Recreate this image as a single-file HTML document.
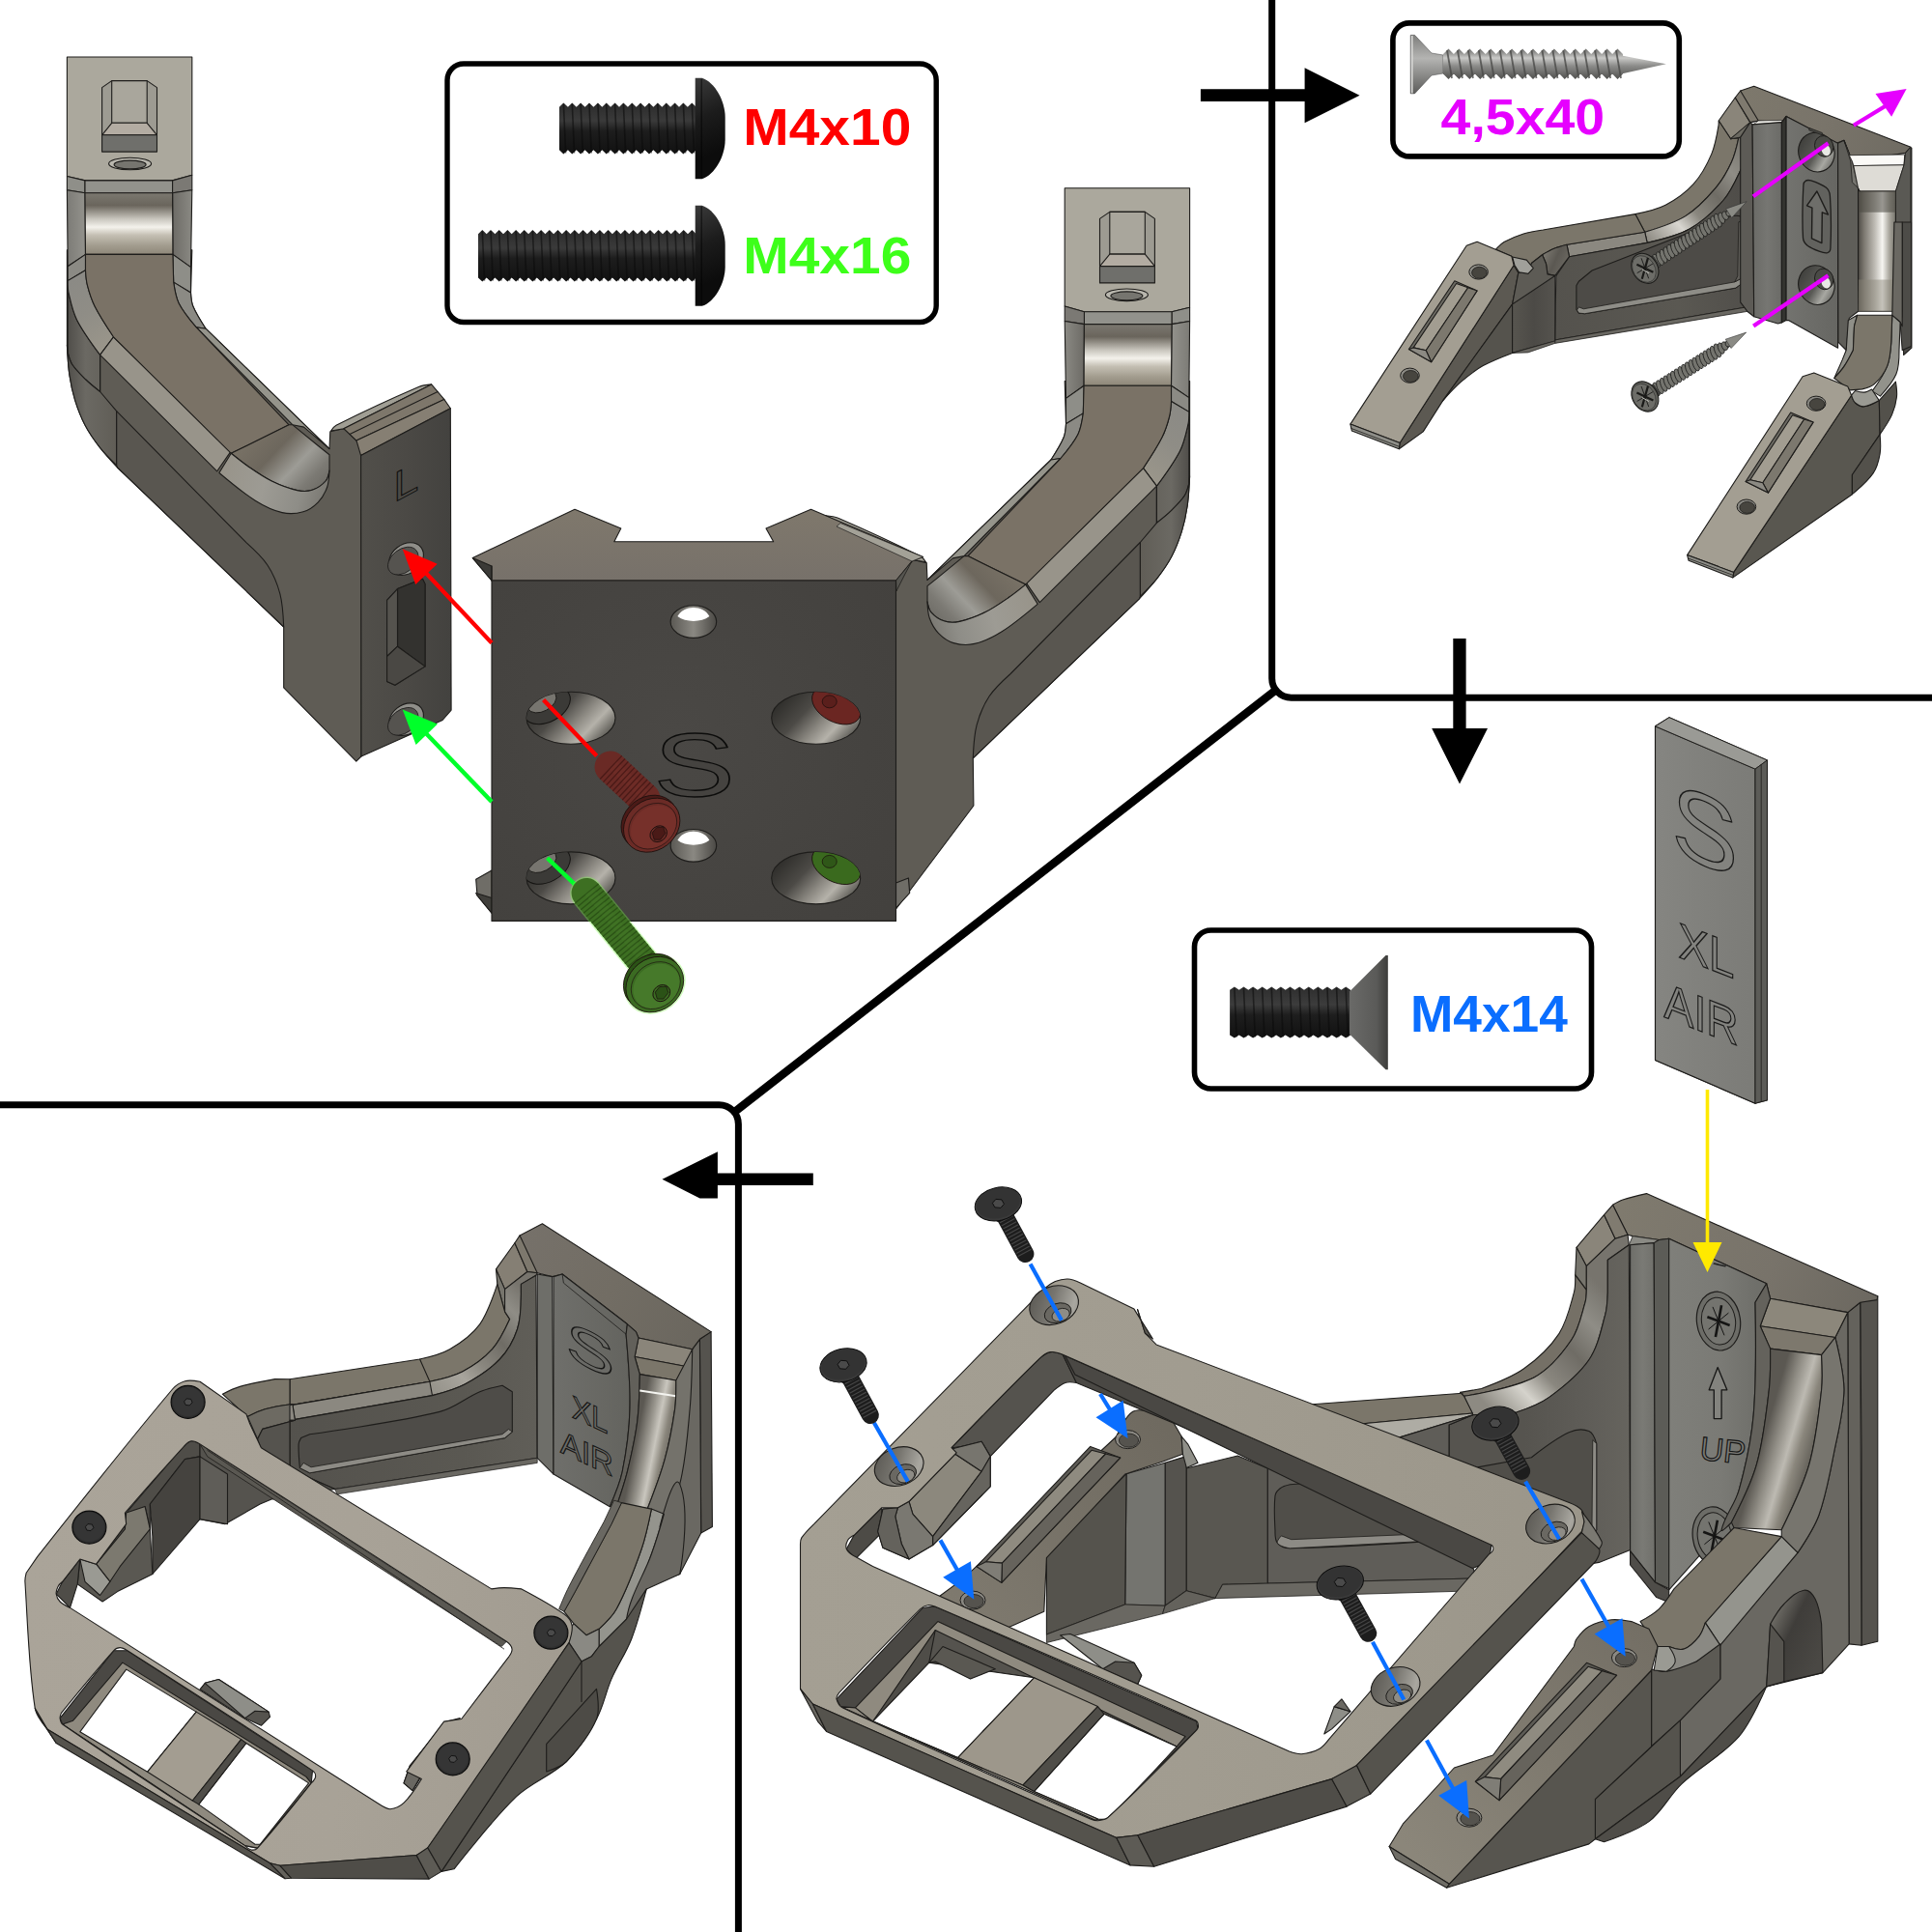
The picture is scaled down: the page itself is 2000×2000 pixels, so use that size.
<!DOCTYPE html>
<html><head><meta charset="utf-8"><title>Assembly</title>
<style>html,body{margin:0;padding:0;background:#fff}svg{display:block}</style></head>
<body>
<svg xmlns="http://www.w3.org/2000/svg" width="2000" height="2000" viewBox="0 0 2000 2000">
<defs>
<linearGradient id="g1" gradientUnits="userSpaceOnUse" x1="69.4" y1="0" x2="124.2" y2="0"><stop offset="0" stop-color="#4f4d49"/><stop offset="0.35" stop-color="#6b6963"/><stop offset="1" stop-color="#5f5c55"/></linearGradient>
<linearGradient id="g2" gradientUnits="userSpaceOnUse" x1="69.4" y1="0" x2="88" y2="0"><stop offset="0" stop-color="#7c7b76"/><stop offset="1" stop-color="#93928c"/></linearGradient>
<linearGradient id="g3" gradientUnits="userSpaceOnUse" x1="178.6" y1="0" x2="198.8" y2="0"><stop offset="0" stop-color="#6d6b66"/><stop offset="1" stop-color="#8a8983"/></linearGradient>
<linearGradient id="g4" gradientUnits="userSpaceOnUse" x1="0" y1="199.8" x2="0" y2="264"><stop offset="0" stop-color="#7b7870"/><stop offset="0.2" stop-color="#6a655c"/><stop offset="0.42" stop-color="#c9c6be"/><stop offset="0.55" stop-color="#f4f2ec"/><stop offset="0.68" stop-color="#c4bfb3"/><stop offset="0.85" stop-color="#a29c8e"/><stop offset="1" stop-color="#8c8577"/></linearGradient>
<linearGradient id="g5" gradientUnits="userSpaceOnUse" x1="70.2" y1="292.1" x2="112.1" y2="354.2"><stop offset="0" stop-color="#8b8a85"/><stop offset="0.5" stop-color="#8f8d86"/><stop offset="1" stop-color="#99958a"/></linearGradient>
<linearGradient id="g6" gradientUnits="userSpaceOnUse" x1="253.3" y1="449.9" x2="326.3" y2="519.8"><stop offset="0" stop-color="#7a7367"/><stop offset="0.35" stop-color="#6d675d"/><stop offset="0.6" stop-color="#9d9c96"/><stop offset="0.8" stop-color="#7c7a74"/><stop offset="1" stop-color="#6a6862"/></linearGradient>
<linearGradient id="g7" gradientUnits="userSpaceOnUse" x1="230" y1="488.7" x2="338.7" y2="519.8"><stop offset="0" stop-color="#98948a"/><stop offset="0.4" stop-color="#9d9b94"/><stop offset="0.75" stop-color="#8e8d87"/><stop offset="1" stop-color="#77756f"/></linearGradient>
<linearGradient id="g8" gradientUnits="userSpaceOnUse" x1="374" y1="400" x2="467.1" y2="400"><stop offset="0" stop-color="#514f4a"/><stop offset="0.5" stop-color="#4b4945"/><stop offset="1" stop-color="#43423f"/></linearGradient>
<linearGradient id="g9" gradientUnits="userSpaceOnUse" x1="1231.6" y1="135.8" x2="1176.8" y2="135.8"><stop offset="0" stop-color="#4f4d49"/><stop offset="0.35" stop-color="#6b6963"/><stop offset="1" stop-color="#5f5c55"/></linearGradient>
<linearGradient id="g10" gradientUnits="userSpaceOnUse" x1="1231.6" y1="135.8" x2="1213" y2="135.8"><stop offset="0" stop-color="#7c7b76"/><stop offset="1" stop-color="#93928c"/></linearGradient>
<linearGradient id="g11" gradientUnits="userSpaceOnUse" x1="1122.4" y1="135.8" x2="1102.2" y2="135.8"><stop offset="0" stop-color="#6d6b66"/><stop offset="1" stop-color="#8a8983"/></linearGradient>
<linearGradient id="g12" gradientUnits="userSpaceOnUse" x1="1301" y1="335.6" x2="1301" y2="399.8"><stop offset="0" stop-color="#7b7870"/><stop offset="0.2" stop-color="#6a655c"/><stop offset="0.42" stop-color="#c9c6be"/><stop offset="0.55" stop-color="#f4f2ec"/><stop offset="0.68" stop-color="#c4bfb3"/><stop offset="0.85" stop-color="#a29c8e"/><stop offset="1" stop-color="#8c8577"/></linearGradient>
<linearGradient id="g13" gradientUnits="userSpaceOnUse" x1="1230.8" y1="427.9" x2="1188.9" y2="490"><stop offset="0" stop-color="#8b8a85"/><stop offset="0.5" stop-color="#8f8d86"/><stop offset="1" stop-color="#99958a"/></linearGradient>
<linearGradient id="g14" gradientUnits="userSpaceOnUse" x1="1047.7" y1="585.7" x2="974.7" y2="655.6"><stop offset="0" stop-color="#7a7367"/><stop offset="0.35" stop-color="#6d675d"/><stop offset="0.6" stop-color="#9d9c96"/><stop offset="0.8" stop-color="#7c7a74"/><stop offset="1" stop-color="#6a6862"/></linearGradient>
<linearGradient id="g15" gradientUnits="userSpaceOnUse" x1="1071" y1="624.5" x2="962.3" y2="655.6"><stop offset="0" stop-color="#98948a"/><stop offset="0.4" stop-color="#9d9b94"/><stop offset="0.75" stop-color="#8e8d87"/><stop offset="1" stop-color="#77756f"/></linearGradient>
<linearGradient id="g16" gradientUnits="userSpaceOnUse" x1="927" y1="535.8" x2="833.9" y2="535.8"><stop offset="0" stop-color="#514f4a"/><stop offset="0.5" stop-color="#4b4945"/><stop offset="1" stop-color="#43423f"/></linearGradient>
<linearGradient id="g17" gradientUnits="userSpaceOnUse" x1="0" y1="527" x2="0" y2="601"><stop offset="0" stop-color="#7f786c"/><stop offset="1" stop-color="#77716a"/></linearGradient>
<radialGradient id="g18" gradientUnits="userSpaceOnUse" cx="700" cy="760" r="330"><stop offset="0" stop-color="#4a4845"/><stop offset="0.6" stop-color="#454340"/><stop offset="1" stop-color="#42403d"/></radialGradient>
<linearGradient id="g19" gradientUnits="userSpaceOnUse" x1="693.9" y1="643.6" x2="741.9" y2="643.6"><stop offset="0" stop-color="#5a5853"/><stop offset="0.5" stop-color="#8a8882"/><stop offset="1" stop-color="#4a4844"/></linearGradient>
<linearGradient id="g20" gradientUnits="userSpaceOnUse" x1="693.9" y1="875.3" x2="741.9" y2="875.3"><stop offset="0" stop-color="#5a5853"/><stop offset="0.5" stop-color="#8a8882"/><stop offset="1" stop-color="#4a4844"/></linearGradient>
<linearGradient id="g21" gradientUnits="userSpaceOnUse" x1="561" y1="718.3" x2="616" y2="770.3"><stop offset="0" stop-color="#2f2e2b"/><stop offset="0.35" stop-color="#4c4a46"/><stop offset="0.62" stop-color="#8d8a83"/><stop offset="0.8" stop-color="#b5b2aa"/><stop offset="1" stop-color="#6a6862"/></linearGradient>
<linearGradient id="g22" gradientUnits="userSpaceOnUse" x1="561" y1="883.9" x2="616" y2="935.9"><stop offset="0" stop-color="#2f2e2b"/><stop offset="0.35" stop-color="#4c4a46"/><stop offset="0.62" stop-color="#8d8a83"/><stop offset="0.8" stop-color="#b5b2aa"/><stop offset="1" stop-color="#6a6862"/></linearGradient>
<linearGradient id="g23" gradientUnits="userSpaceOnUse" x1="814.7" y1="718.3" x2="869.7" y2="770.3"><stop offset="0" stop-color="#2f2e2b"/><stop offset="0.35" stop-color="#4c4a46"/><stop offset="0.62" stop-color="#8d8a83"/><stop offset="0.8" stop-color="#b5b2aa"/><stop offset="1" stop-color="#6a6862"/></linearGradient>
<linearGradient id="g24" gradientUnits="userSpaceOnUse" x1="814.7" y1="883.9" x2="869.7" y2="935.9"><stop offset="0" stop-color="#2f2e2b"/><stop offset="0.35" stop-color="#4c4a46"/><stop offset="0.62" stop-color="#8d8a83"/><stop offset="0.8" stop-color="#b5b2aa"/><stop offset="1" stop-color="#6a6862"/></linearGradient>
<linearGradient id="g25" gradientUnits="userSpaceOnUse" x1="1807" y1="91.1" x2="1972.7" y2="163.5"><stop offset="0" stop-color="#7d786c"/><stop offset="0.5" stop-color="#79746a"/><stop offset="1" stop-color="#6f6b62"/></linearGradient>
<linearGradient id="g26" gradientUnits="userSpaceOnUse" x1="1703.5" y1="246.3" x2="1807" y2="153.2"><stop offset="0" stop-color="#8d8a82"/><stop offset="0.25" stop-color="#d8d6d0"/><stop offset="0.4" stop-color="#8a877f"/><stop offset="0.6" stop-color="#6f6c65"/><stop offset="0.8" stop-color="#8f8d86"/><stop offset="1" stop-color="#7a7770"/></linearGradient>
<linearGradient id="g27" gradientUnits="userSpaceOnUse" x1="1600" y1="287.7" x2="1811.2" y2="246.3"><stop offset="0" stop-color="#54524d"/><stop offset="0.6" stop-color="#5a5852"/><stop offset="1" stop-color="#4f4d49"/></linearGradient>
<linearGradient id="g28" gradientUnits="userSpaceOnUse" x1="1814.1" y1="80" x2="1844.4" y2="80"><stop offset="0" stop-color="#6a6a66"/><stop offset="0.5" stop-color="#767672"/><stop offset="1" stop-color="#6b6b67"/></linearGradient>
<linearGradient id="g29" gradientUnits="userSpaceOnUse" x1="1849.1" y1="80" x2="1902.6" y2="80"><stop offset="0" stop-color="#73736f"/><stop offset="1" stop-color="#666662"/></linearGradient>
<linearGradient id="g30" gradientUnits="userSpaceOnUse" x1="1864.6" y1="139" x2="1895.7" y2="176.3"><stop offset="0" stop-color="#3a3a37"/><stop offset="0.5" stop-color="#5a5a56"/><stop offset="0.75" stop-color="#a8a8a2"/><stop offset="1" stop-color="#5e5e5a"/></linearGradient>
<linearGradient id="g31" gradientUnits="userSpaceOnUse" x1="1864.6" y1="276.4" x2="1895.7" y2="313.7"><stop offset="0" stop-color="#3a3a37"/><stop offset="0.5" stop-color="#5a5a56"/><stop offset="0.75" stop-color="#a8a8a2"/><stop offset="1" stop-color="#5e5e5a"/></linearGradient>
<linearGradient id="g32" gradientUnits="userSpaceOnUse" x1="1923.6" y1="80" x2="1964" y2="80"><stop offset="0" stop-color="#4f4c46"/><stop offset="0.15" stop-color="#7c7870"/><stop offset="0.42" stop-color="#bdbab3"/><stop offset="0.62" stop-color="#f6f5f1"/><stop offset="0.8" stop-color="#a8a59c"/><stop offset="1" stop-color="#6a6860"/></linearGradient>
<linearGradient id="g33" gradientUnits="userSpaceOnUse" x1="1700" y1="198" x2="1700" y2="322.2"><stop offset="0" stop-color="#55524c"/><stop offset="0.12" stop-color="#55524c"/><stop offset="0.3" stop-color="#55524c"/><stop offset="1" stop-color="#55524c"/></linearGradient>
<linearGradient id="g34" gradientUnits="userSpaceOnUse" x1="1565.6" y1="200" x2="1609.8" y2="200"><stop offset="0" stop-color="#57554f"/><stop offset="0.5" stop-color="#4c4a46"/><stop offset="1" stop-color="#55534e"/></linearGradient>
<linearGradient id="g35" gradientUnits="userSpaceOnUse" x1="1597.4" y1="262.1" x2="1623.8" y2="274.5"><stop offset="0" stop-color="#7d7a72"/><stop offset="0.5" stop-color="#5b5852"/><stop offset="1" stop-color="#6d6a63"/></linearGradient>
<linearGradient id="g36" gradientUnits="userSpaceOnUse" x1="1833.9" y1="1681.2" x2="1888.2" y2="1707"><stop offset="0" stop-color="#6a6862"/><stop offset="0.35" stop-color="#3f3d3a"/><stop offset="1" stop-color="#4a4844"/></linearGradient>
<linearGradient id="g37" gradientUnits="userSpaceOnUse" x1="1681.2" y1="1244.7" x2="1940" y2="1348.2"><stop offset="0" stop-color="#7f7a6e"/><stop offset="0.6" stop-color="#78736a"/><stop offset="1" stop-color="#6c6860"/></linearGradient>
<linearGradient id="g38" gradientUnits="userSpaceOnUse" x1="1538.8" y1="1454.3" x2="1660.5" y2="1335.3"><stop offset="0" stop-color="#8d8a82"/><stop offset="0.22" stop-color="#d5d3cc"/><stop offset="0.38" stop-color="#8a877f"/><stop offset="0.6" stop-color="#6f6c65"/><stop offset="0.8" stop-color="#8f8d86"/><stop offset="1" stop-color="#77746d"/></linearGradient>
<linearGradient id="g39" gradientUnits="userSpaceOnUse" x1="1577.6" y1="1180" x2="1687.6" y2="1180"><stop offset="0" stop-color="#56544f"/><stop offset="0.6" stop-color="#5f5d58"/><stop offset="1" stop-color="#66645e"/></linearGradient>
<linearGradient id="g40" gradientUnits="userSpaceOnUse" x1="1687.6" y1="1180" x2="1713.5" y2="1180"><stop offset="0" stop-color="#6e6e69"/><stop offset="0.5" stop-color="#7a7a75"/><stop offset="1" stop-color="#70706b"/></linearGradient>
<linearGradient id="g41" gradientUnits="userSpaceOnUse" x1="1727.7" y1="1180" x2="1818.3" y2="1180"><stop offset="0" stop-color="#7f7f7a"/><stop offset="0.6" stop-color="#7a7a75"/><stop offset="1" stop-color="#6f6f6a"/></linearGradient>
<linearGradient id="g42" gradientUnits="userSpaceOnUse" x1="1832.6" y1="1464.7" x2="1885.6" y2="1480.2"><stop offset="0" stop-color="#5b5852"/><stop offset="0.25" stop-color="#8e8b83"/><stop offset="0.5" stop-color="#bdbab2"/><stop offset="0.7" stop-color="#8a867c"/><stop offset="1" stop-color="#5f5c55"/></linearGradient>
<linearGradient id="g43" gradientUnits="userSpaceOnUse" x1="981.2" y1="1668.2" x2="1214.1" y2="1487"><stop offset="0" stop-color="#7f7a6f"/><stop offset="1" stop-color="#6f6a60"/></linearGradient>
<linearGradient id="g44" gradientUnits="userSpaceOnUse" x1="1458.8" y1="1914.1" x2="1691.7" y2="1681.2"><stop offset="0" stop-color="#8b867a"/><stop offset="0.5" stop-color="#7f7a6f"/><stop offset="1" stop-color="#746f65"/></linearGradient>
<linearGradient id="g45" gradientUnits="userSpaceOnUse" x1="825.9" y1="1590.6" x2="1640" y2="1577.6"><stop offset="0" stop-color="#a49f93"/><stop offset="0.5" stop-color="#a19c90"/><stop offset="1" stop-color="#9b968a"/></linearGradient>
<linearGradient id="g46" gradientUnits="userSpaceOnUse" x1="1065.1" y1="1331.7" x2="1117.1" y2="1370.7"><stop offset="0" stop-color="#55534e"/><stop offset="0.45" stop-color="#77756f"/><stop offset="0.8" stop-color="#a9a7a0"/><stop offset="1" stop-color="#8c8a84"/></linearGradient>
<linearGradient id="g47" gradientUnits="userSpaceOnUse" x1="904.7" y1="1498.6" x2="956.7" y2="1537.6"><stop offset="0" stop-color="#55534e"/><stop offset="0.45" stop-color="#77756f"/><stop offset="0.8" stop-color="#a9a7a0"/><stop offset="1" stop-color="#8c8a84"/></linearGradient>
<linearGradient id="g48" gradientUnits="userSpaceOnUse" x1="1579" y1="1558.1" x2="1631" y2="1597.1"><stop offset="0" stop-color="#55534e"/><stop offset="0.45" stop-color="#77756f"/><stop offset="0.8" stop-color="#a9a7a0"/><stop offset="1" stop-color="#8c8a84"/></linearGradient>
<linearGradient id="g49" gradientUnits="userSpaceOnUse" x1="1418.6" y1="1726.4" x2="1470.6" y2="1765.4"><stop offset="0" stop-color="#55534e"/><stop offset="0.45" stop-color="#77756f"/><stop offset="0.8" stop-color="#a9a7a0"/><stop offset="1" stop-color="#8c8a84"/></linearGradient>
<linearGradient id="g50" gradientUnits="userSpaceOnUse" x1="1713.5" y1="700" x2="1821.1" y2="700"><stop offset="0" stop-color="#858581"/><stop offset="1" stop-color="#7b7b77"/></linearGradient>
<linearGradient id="g51" gradientUnits="userSpaceOnUse" x1="683" y1="1588.2" x2="714.1" y2="1627"><stop offset="0" stop-color="#6a6862"/><stop offset="0.4" stop-color="#45433f"/><stop offset="1" stop-color="#4f4d49"/></linearGradient>
<linearGradient id="g52" gradientUnits="userSpaceOnUse" x1="532.9" y1="1277.6" x2="737.4" y2="1381.2"><stop offset="0" stop-color="#76716a"/><stop offset="0.5" stop-color="#726d64"/><stop offset="1" stop-color="#6a665e"/></linearGradient>
<linearGradient id="g53" gradientUnits="userSpaceOnUse" x1="429.4" y1="1440.7" x2="540.7" y2="1334.6"><stop offset="0" stop-color="#8d8a82"/><stop offset="0.3" stop-color="#a8a59d"/><stop offset="0.45" stop-color="#8a877f"/><stop offset="0.65" stop-color="#6f6c65"/><stop offset="0.85" stop-color="#8f8d86"/><stop offset="1" stop-color="#77746d"/></linearGradient>
<linearGradient id="g54" gradientUnits="userSpaceOnUse" x1="300" y1="1200" x2="556.2" y2="1200"><stop offset="0" stop-color="#54524d"/><stop offset="0.7" stop-color="#5a5852"/><stop offset="1" stop-color="#605e58"/></linearGradient>
<linearGradient id="g55" gradientUnits="userSpaceOnUse" x1="573" y1="1200" x2="649.4" y2="1200"><stop offset="0" stop-color="#6f6f6b"/><stop offset="1" stop-color="#64645f"/></linearGradient>
<linearGradient id="g56" gradientUnits="userSpaceOnUse" x1="659.7" y1="1484.7" x2="698.6" y2="1492.4"><stop offset="0" stop-color="#5b5852"/><stop offset="0.3" stop-color="#9a978f"/><stop offset="0.5" stop-color="#c9c6be"/><stop offset="0.72" stop-color="#8a867c"/><stop offset="1" stop-color="#5f5c55"/></linearGradient>
<linearGradient id="g57" gradientUnits="userSpaceOnUse" x1="25.9" y1="1634.7" x2="586.4" y2="1681.2"><stop offset="0" stop-color="#aaa499"/><stop offset="0.6" stop-color="#a8a297"/><stop offset="1" stop-color="#a29c91"/></linearGradient>
<linearGradient id="g58" gradientUnits="userSpaceOnUse" x1="0" y1="106.5" x2="0" y2="159.5"><stop offset="0" stop-color="#2b2b2b"/><stop offset="0.35" stop-color="#3a3a3a"/><stop offset="0.55" stop-color="#1d1d1d"/><stop offset="1" stop-color="#111"/></linearGradient>
<linearGradient id="g59" gradientUnits="userSpaceOnUse" x1="719.7" y1="80.8" x2="750.7" y2="153.9"><stop offset="0" stop-color="#3a3a3a"/><stop offset="0.5" stop-color="#1c1c1c"/><stop offset="1" stop-color="#0c0c0c"/></linearGradient>
<linearGradient id="g60" gradientUnits="userSpaceOnUse" x1="0" y1="238" x2="0" y2="291.6"><stop offset="0" stop-color="#2b2b2b"/><stop offset="0.35" stop-color="#3a3a3a"/><stop offset="0.55" stop-color="#1d1d1d"/><stop offset="1" stop-color="#111"/></linearGradient>
<linearGradient id="g61" gradientUnits="userSpaceOnUse" x1="719.7" y1="212.8" x2="750.7" y2="285.6"><stop offset="0" stop-color="#3a3a3a"/><stop offset="0.5" stop-color="#1c1c1c"/><stop offset="1" stop-color="#0c0c0c"/></linearGradient>
<linearGradient id="g62" gradientUnits="userSpaceOnUse" x1="0" y1="50.4" x2="0" y2="82.4"><stop offset="0" stop-color="#6b6b69"/><stop offset="0.3" stop-color="#c9c9c7"/><stop offset="0.55" stop-color="#8d8d8b"/><stop offset="1" stop-color="#4e4e4c"/></linearGradient>
<linearGradient id="g63" gradientUnits="userSpaceOnUse" x1="0" y1="36" x2="0" y2="97"><stop offset="0" stop-color="#7d7d7b"/><stop offset="0.4" stop-color="#b4b4b2"/><stop offset="1" stop-color="#5c5c5a"/></linearGradient>
<linearGradient id="g64" gradientUnits="userSpaceOnUse" x1="0" y1="1021" x2="0" y2="1075"><stop offset="0" stop-color="#2d2d2d"/><stop offset="0.35" stop-color="#3c3c3c"/><stop offset="0.55" stop-color="#1e1e1e"/><stop offset="1" stop-color="#111"/></linearGradient>
<linearGradient id="g65" gradientUnits="userSpaceOnUse" x1="1397" y1="0" x2="1437" y2="0"><stop offset="0" stop-color="#6a6a68"/><stop offset="0.7" stop-color="#5a5a58"/><stop offset="1" stop-color="#3c3c3a"/></linearGradient>
</defs>
<rect width="2000" height="2000" fill="#fff"/>
<path d="M1316.7 0V702a20 20 0 0 0 20 20.2H2000" fill="none" stroke="#000" stroke-width="7"/>
<path d="M0 1143.7H744.4a20 20 0 0 1 20 20V2000" fill="none" stroke="#000" stroke-width="7"/>
<path d="M1320.5 714.5L760.5 1151" fill="none" stroke="#000" stroke-width="8.5"/>
<path d="M1242.9 92.2H1350.6V70.2L1407.5 98.8L1350.6 127.3V105H1242.9Z" fill="#000"/>
<path d="M1504.3 660.9H1517.6V754H1540L1511 811.6L1482.2 754H1504.3Z" fill="#000"/>
<path d="M841.8 1214.6V1227H742.9V1240.5H724.5L685.5 1220.8L742.9 1192.2V1214.6Z" fill="#000"/>
<rect x="463" y="66" width="506.2" height="267.5" rx="17" fill="#fff" stroke="#000" stroke-width="5.4"/>
<rect x="1441.9" y="23.9" width="296.4" height="138" rx="17" fill="#fff" stroke="#000" stroke-width="5.6"/>
<rect x="1236.5" y="963" width="411" height="164" rx="17" fill="#fff" stroke="#000" stroke-width="5.6"/>
<path d="M69.4 258.8L69.4 357.1C69.4 357.1 70.4 377.9 71.9 388.2C73.2 396.9 75 405.7 77.6 414.1C80.4 423 83.7 431.8 88 440C92.3 448.3 97.8 455.9 103.5 463.3C109.1 470.6 121.6 484 121.6 484L293.7 649L293.7 711.9L368.8 788.2L374 783L374 466L369 456.1L355.8 443.7L341.8 446.8L341 464.6L213 340.2C213 340.2 203.2 325.2 199.8 317C198 312.6 197.5 303 197.5 303L198.8 258.8Z" fill="#5f5c55" stroke="#1e1d1b" stroke-width="1.1" stroke-linejoin="round" />
<path d="M70.2 290.6C70.2 290.6 70.1 299 71 303C73.2 312.5 75.1 322.2 79.5 330.9C86.1 343.9 103.6 367.4 103.6 367.4L103.6 405.5C103.6 405.5 93.4 397.5 88.8 393C83.8 388.1 78.7 383.3 74.8 377.5C72.4 373.8 70.2 365.1 70.2 365.1Z" fill="url(#g1)" stroke="#1e1d1b" stroke-width="1.1" stroke-linejoin="round" />
<path d="M70.2 365.1C70.2 365.1 72.4 373.8 74.8 377.5C78.7 383.3 83.8 388.1 88.8 393C93.4 397.5 103.6 405.5 103.6 405.5L120.7 425.7L120.7 481.6C120.7 481.6 108.7 469.9 103.5 463.3C97.7 456 92.3 448.3 88 440C83.7 431.8 80.4 423 77.6 414.1C75 405.7 73.2 396.9 71.9 388.2C70.4 377.9 69.4 357.1 69.4 357.1Z" fill="url(#g1)" stroke="#1e1d1b" stroke-width="1.1" stroke-linejoin="round" />
<path d="M120.7 425.7L254.9 561.7C254.9 561.7 271 576.1 276.9 585C282.9 594 287.1 604.3 289.9 614.8C292.8 625.9 293.7 649 293.7 649L121.6 484L120.7 481.6Z" fill="#595650" stroke="#1e1d1b" stroke-width="1.1" stroke-linejoin="round" />
<path d="M103.6 367.4L103.6 405.5" fill="none" stroke="#1e1d1b" stroke-width="1.1" stroke-linecap="round" stroke-linejoin="round" />
<path d="M69.4 59L198.8 59L198.8 181.2L178.6 186.9L88 186.9L69.4 182.5Z" fill="#aba89d" stroke="#1e1d1b" stroke-width="1.1" stroke-linejoin="round" />
<path d="M105.6 90.6L115.7 83.6L152.2 83.6L162.5 90.6L162.5 139.8L105.6 139.8Z" fill="#9d9b92" stroke="#1e1d1b" stroke-width="1.1" stroke-linejoin="round" />
<path d="M115.7 83.6L152.2 83.6L152.2 127.3L115.7 127.3Z" fill="#a9a69c" stroke="#1e1d1b" stroke-width="1.1" stroke-linejoin="round" />
<path d="M115.7 127.3L152.2 127.3L162.5 139.8L105.6 139.8Z" fill="#b3aca2" stroke="#1e1d1b" stroke-width="1.1" stroke-linejoin="round" />
<path d="M105.6 139.8L162.5 139.8L162.5 157.1L105.6 157.1Z" fill="#6f6f6b" stroke="#1e1d1b" stroke-width="1.1" stroke-linejoin="round" />
<ellipse cx="134.6" cy="169.5" rx="22" ry="6.3" fill="#b9b7ae" stroke="#1e1d1b" stroke-width="1.1"/>
<ellipse cx="134.6" cy="170.5" rx="16.5" ry="4.4" fill="#76756f" stroke="#1e1d1b" stroke-width="1.1"/>
<path d="M69.4 182.5L88 186.9L88 199.8L69.4 196.7Z" fill="#8f8f89" stroke="#1e1d1b" stroke-width="1.1" stroke-linejoin="round" />
<path d="M88 186.9L178.6 186.9L178.6 199.8L88 199.8Z" fill="#92928c" stroke="#1e1d1b" stroke-width="1.1" stroke-linejoin="round" />
<path d="M178.6 186.9L198.8 181.2L198.8 196.7L178.6 199.8Z" fill="#7b7974" stroke="#1e1d1b" stroke-width="1.1" stroke-linejoin="round" />
<path d="M69.4 196.7L88 199.8L88.5 263.4L70.2 275.8Z" fill="url(#g2)" stroke="#1e1d1b" stroke-width="1.1" stroke-linejoin="round" />
<path d="M70.2 275.8L88.5 263.4L88.5 279.7L70.2 290.6Z" fill="#8b8a84" stroke="#1e1d1b" stroke-width="1.1" stroke-linejoin="round" />
<path d="M178.6 199.8L198.8 196.7L197.5 276.6L178.9 263.4Z" fill="url(#g3)" stroke="#1e1d1b" stroke-width="1.1" stroke-linejoin="round" />
<path d="M178.9 263.4L197.5 276.6L197.5 303L179.7 292.1Z" fill="#8e8e88" stroke="#1e1d1b" stroke-width="1.1" stroke-linejoin="round" />
<path d="M88 199.8L178.6 199.8L178.9 263.4L88.5 263.4Z" fill="url(#g4)" stroke="#1e1d1b" stroke-width="1.1" stroke-linejoin="round" />
<path d="M70.2 290.6L88.5 279.7C88.5 279.7 89.1 290.2 90.4 295.2C92.3 302.7 94.6 310.1 98.1 317C103.7 328.1 117.5 348.8 117.5 348.8L103.6 367.4C103.6 367.4 86.1 343.9 79.5 330.9C75.1 322.2 73.2 312.5 71 303C70.1 299 70.2 290.6 70.2 290.6Z" fill="url(#g5)" stroke="#1e1d1b" stroke-width="1.1" stroke-linejoin="round" />
<path d="M117.5 348.8L238.7 467.6L224.7 487.8L103.6 367.4Z" fill="#98948a" stroke="#1e1d1b" stroke-width="1.1" stroke-linejoin="round" />
<path d="M179.7 292.1L197.5 303C197.5 303 198 312.6 199.8 317C203.2 325.2 213 340.2 213 340.2L203 338.7C203 338.7 189.7 323 185.1 313.9C181.8 307.2 179.7 292.1 179.7 292.1Z" fill="#8b8a84" stroke="#1e1d1b" stroke-width="1.1" stroke-linejoin="round" />
<path d="M203 338.7L213 340.2L341 464.6L314.6 442.1L303 439.8Z" fill="#95948b" stroke="#1e1d1b" stroke-width="1.1" stroke-linejoin="round" />
<path d="M88.5 263.4L178.9 263.4L179.7 292.1C179.7 292.1 181.8 307.2 185.1 313.9C189.7 323 203 338.7 203 338.7L299.1 439.8L239.3 469.3L117.5 348.8C117.5 348.8 103.7 328.1 98.1 317C94.6 310.1 92.3 302.7 90.4 295.2C89.1 290.2 88.5 279.7 88.5 279.7Z" fill="#7a7266" stroke="#1e1d1b" stroke-width="1.1" stroke-linejoin="round" />
<path d="M239.3 469.3L299.1 439.8L303 439.8L329.4 461.5L341 470.8L341 487.1C341 487.1 339.7 495.1 337.1 498C333.4 502.2 328.5 505.6 323.2 507.3C318.3 508.9 312.7 508.7 307.6 507.6C298.5 505.6 289.6 502.1 281.2 498C272.4 493.7 264.4 488 256.4 482.5C250.5 478.4 239.3 469.3 239.3 469.3Z" fill="url(#g6)" stroke="#1e1d1b" stroke-width="1.1" stroke-linejoin="round" />
<path d="M239.3 469.3C239.3 469.3 250.5 478.4 256.4 482.5C264.4 488 272.4 493.7 281.2 498C289.6 502.1 298.5 505.6 307.6 507.6C312.7 508.7 318.3 508.9 323.2 507.3C328.5 505.6 333.4 502.2 337.1 498C339.7 495.1 341 487.1 341 487.1C341 487.1 340.6 498.8 338.7 504.2C336.7 509.9 333.6 515.5 329.4 519.8C325.1 524.2 319.8 528.1 313.9 529.8C306.9 531.8 299.2 532.3 292.1 530.6C282.2 528.3 272.8 523.6 264.2 518.2C250.9 509.8 226.9 489.5 226.9 489.5Z" fill="url(#g7)" stroke="#1e1d1b" stroke-width="1.1" stroke-linejoin="round" />
<path d="M342.6 446C342.6 446 345.6 441.4 348 440.2C376.1 426.1 404.6 412.9 433.4 400.5C437.5 398.7 446.6 397.9 446.6 397.9L355.8 443.7Z" fill="#a09e94" stroke="#1e1d1b" stroke-width="1.1" stroke-linejoin="round" />
<path d="M355.8 443.7L446.6 397.9L459.8 413.4L369 456.1Z" fill="#7e776b" stroke="#1e1d1b" stroke-width="1.1" stroke-linejoin="round" />
<path d="M362 449.4L453.1 405.6" fill="none" stroke="#1e1d1b" stroke-width="1.1" stroke-linecap="round" stroke-linejoin="round" />
<path d="M369 456.1L459.8 413.4L466.3 422.7L373.6 471.6Z" fill="#867f73" stroke="#1e1d1b" stroke-width="1.1" stroke-linejoin="round" />
<path d="M373.6 471.6L466.3 422.7L467.1 735.1L458.1 745.5L374 783Z" fill="url(#g8)" stroke="#1e1d1b" stroke-width="1.1" stroke-linejoin="round" />
<text x="0" y="0" transform="matrix(1.07 -0.57 0 1 407.4 520.5)" font-family='"Liberation Sans", sans-serif' font-size="43.4" font-weight="normal" fill="#4b4945" stroke="#111110" stroke-width="1.1" stroke-linejoin="round">L</text>
<ellipse cx="420.5" cy="578.6" rx="15" ry="19.5" fill="#8f8e89" stroke="#1e1d1b" stroke-width="1.1" transform="rotate(52 420.5 578.6)"/>
<ellipse cx="417.2" cy="580.6" rx="12" ry="17.5" fill="#55534f" stroke="#1e1d1b" stroke-width="0.8" transform="rotate(52 417.2 580.6)"/>
<ellipse cx="420.5" cy="744.7" rx="15" ry="19.5" fill="#8f8e89" stroke="#1e1d1b" stroke-width="1.1" transform="rotate(52 420.5 744.7)"/>
<ellipse cx="417.2" cy="746.8" rx="12" ry="17.5" fill="#55534f" stroke="#1e1d1b" stroke-width="0.8" transform="rotate(52 417.2 746.8)"/>
<path d="M400.6 621.3L411.5 609.6L437.4 599.3L440 604.5L440 689.9L408.9 709.3L400.6 705.4Z" fill="#3a3936" stroke="#1e1d1b" stroke-width="1.1" stroke-linejoin="round" />
<path d="M411.5 609.6L437.4 599.3L440 604.5L440 689.9L411.5 669.2Z" fill="#33322f" stroke="#1e1d1b" stroke-width="1.1" stroke-linejoin="round" />
<path d="M400.6 621.3L411.5 609.6L411.5 669.2L400.6 679.5Z" fill="#55534e" stroke="#1e1d1b" stroke-width="1.1" stroke-linejoin="round" />
<path d="M400.6 679.5L411.5 669.2L440 689.9L408.9 709.3L400.6 705.4Z" fill="#4a4844" stroke="#1e1d1b" stroke-width="1.1" stroke-linejoin="round" />
<path d="M1231.6 394.6L1231.6 492.9C1231.6 492.9 1230.6 513.7 1229.1 524C1227.8 532.7 1226 541.5 1223.4 549.9C1220.6 558.8 1217.3 567.6 1213 575.8C1208.7 584.1 1203.2 591.7 1197.5 599.1C1191.9 606.4 1179.4 619.8 1179.4 619.8L1007.3 784.8L1007.9 834L927.6 941L927 918.8L927 601.8L932 591.9L945.2 579.5L959.2 582.6L960 600.4L1088 476C1088 476 1097.8 461 1101.2 452.8C1103 448.4 1103.5 438.8 1103.5 438.8L1102.2 394.6Z" fill="#5f5c55" stroke="#1e1d1b" stroke-width="1.1" stroke-linejoin="round" />
<path d="M1230.8 426.4C1230.8 426.4 1230.9 434.8 1230 438.8C1227.8 448.3 1225.9 458 1221.5 466.7C1214.9 479.7 1197.4 503.2 1197.4 503.2L1197.4 541.3C1197.4 541.3 1207.6 533.3 1212.2 528.8C1217.2 523.9 1222.3 519.1 1226.2 513.3C1228.6 509.6 1230.8 500.9 1230.8 500.9Z" fill="url(#g9)" stroke="#1e1d1b" stroke-width="1.1" stroke-linejoin="round" />
<path d="M1230.8 500.9C1230.8 500.9 1228.6 509.6 1226.2 513.3C1222.3 519.1 1217.2 523.9 1212.2 528.8C1207.6 533.3 1197.4 541.3 1197.4 541.3L1180.3 561.5L1180.3 617.4C1180.3 617.4 1192.3 605.7 1197.5 599.1C1203.3 591.8 1208.7 584.1 1213 575.8C1217.3 567.6 1220.6 558.8 1223.4 549.9C1226 541.5 1227.8 532.7 1229.1 524C1230.6 513.7 1231.6 492.9 1231.6 492.9Z" fill="url(#g9)" stroke="#1e1d1b" stroke-width="1.1" stroke-linejoin="round" />
<path d="M1180.3 561.5L1046.1 697.5C1046.1 697.5 1030 711.9 1024.1 720.8C1018.1 729.8 1013.9 740.1 1011.1 750.6C1008.2 761.7 1007.3 784.8 1007.3 784.8L1179.4 619.8L1180.3 617.4Z" fill="#595650" stroke="#1e1d1b" stroke-width="1.1" stroke-linejoin="round" />
<path d="M1197.4 503.2L1197.4 541.3" fill="none" stroke="#1e1d1b" stroke-width="1.1" stroke-linecap="round" stroke-linejoin="round" />
<path d="M1231.6 194.8L1102.2 194.8L1102.2 317L1122.4 322.7L1213 322.7L1231.6 318.3Z" fill="#aba89d" stroke="#1e1d1b" stroke-width="1.1" stroke-linejoin="round" />
<path d="M1195.4 226.4L1185.3 219.4L1148.8 219.4L1138.5 226.4L1138.5 275.6L1195.4 275.6Z" fill="#9d9b92" stroke="#1e1d1b" stroke-width="1.1" stroke-linejoin="round" />
<path d="M1185.3 219.4L1148.8 219.4L1148.8 263.1L1185.3 263.1Z" fill="#a9a69c" stroke="#1e1d1b" stroke-width="1.1" stroke-linejoin="round" />
<path d="M1185.3 263.1L1148.8 263.1L1138.5 275.6L1195.4 275.6Z" fill="#b3aca2" stroke="#1e1d1b" stroke-width="1.1" stroke-linejoin="round" />
<path d="M1195.4 275.6L1138.5 275.6L1138.5 292.9L1195.4 292.9Z" fill="#6f6f6b" stroke="#1e1d1b" stroke-width="1.1" stroke-linejoin="round" />
<ellipse cx="1166.4" cy="305.3" rx="22" ry="6.3" fill="#b9b7ae" stroke="#1e1d1b" stroke-width="1.1"/>
<ellipse cx="1166.4" cy="306.3" rx="16.5" ry="4.4" fill="#76756f" stroke="#1e1d1b" stroke-width="1.1"/>
<path d="M1231.6 318.3L1213 322.7L1213 335.6L1231.6 332.5Z" fill="#8f8f89" stroke="#1e1d1b" stroke-width="1.1" stroke-linejoin="round" />
<path d="M1213 322.7L1122.4 322.7L1122.4 335.6L1213 335.6Z" fill="#92928c" stroke="#1e1d1b" stroke-width="1.1" stroke-linejoin="round" />
<path d="M1122.4 322.7L1102.2 317L1102.2 332.5L1122.4 335.6Z" fill="#7b7974" stroke="#1e1d1b" stroke-width="1.1" stroke-linejoin="round" />
<path d="M1231.6 332.5L1213 335.6L1212.5 399.2L1230.8 411.6Z" fill="url(#g10)" stroke="#1e1d1b" stroke-width="1.1" stroke-linejoin="round" />
<path d="M1230.8 411.6L1212.5 399.2L1212.5 415.5L1230.8 426.4Z" fill="#8b8a84" stroke="#1e1d1b" stroke-width="1.1" stroke-linejoin="round" />
<path d="M1122.4 335.6L1102.2 332.5L1103.5 412.4L1122.1 399.2Z" fill="url(#g11)" stroke="#1e1d1b" stroke-width="1.1" stroke-linejoin="round" />
<path d="M1122.1 399.2L1103.5 412.4L1103.5 438.8L1121.3 427.9Z" fill="#8e8e88" stroke="#1e1d1b" stroke-width="1.1" stroke-linejoin="round" />
<path d="M1213 335.6L1122.4 335.6L1122.1 399.2L1212.5 399.2Z" fill="url(#g12)" stroke="#1e1d1b" stroke-width="1.1" stroke-linejoin="round" />
<path d="M1230.8 426.4L1212.5 415.5C1212.5 415.5 1211.9 426 1210.6 431C1208.7 438.5 1206.4 445.9 1202.9 452.8C1197.3 463.9 1183.5 484.6 1183.5 484.6L1197.4 503.2C1197.4 503.2 1214.9 479.7 1221.5 466.7C1225.9 458 1227.8 448.3 1230 438.8C1230.9 434.8 1230.8 426.4 1230.8 426.4Z" fill="url(#g13)" stroke="#1e1d1b" stroke-width="1.1" stroke-linejoin="round" />
<path d="M1183.5 484.6L1062.3 603.4L1076.3 623.6L1197.4 503.2Z" fill="#98948a" stroke="#1e1d1b" stroke-width="1.1" stroke-linejoin="round" />
<path d="M1121.3 427.9L1103.5 438.8C1103.5 438.8 1103 448.4 1101.2 452.8C1097.8 461 1088 476 1088 476L1098 474.5C1098 474.5 1111.3 458.8 1115.9 449.7C1119.2 443 1121.3 427.9 1121.3 427.9Z" fill="#8b8a84" stroke="#1e1d1b" stroke-width="1.1" stroke-linejoin="round" />
<path d="M1098 474.5L1088 476L960 600.4L986.4 577.9L998 575.6Z" fill="#95948b" stroke="#1e1d1b" stroke-width="1.1" stroke-linejoin="round" />
<path d="M1212.5 399.2L1122.1 399.2L1121.3 427.9C1121.3 427.9 1119.2 443 1115.9 449.7C1111.3 458.8 1098 474.5 1098 474.5L1001.9 575.6L1061.7 605.1L1183.5 484.6C1183.5 484.6 1197.3 463.9 1202.9 452.8C1206.4 445.9 1208.7 438.5 1210.6 431C1211.9 426 1212.5 415.5 1212.5 415.5Z" fill="#7a7266" stroke="#1e1d1b" stroke-width="1.1" stroke-linejoin="round" />
<path d="M1061.7 605.1L1001.9 575.6L998 575.6L971.6 597.3L960 606.6L960 622.9C960 622.9 961.3 630.9 963.9 633.8C967.6 638 972.5 641.4 977.8 643.1C982.7 644.7 988.3 644.5 993.4 643.4C1002.5 641.4 1011.4 637.9 1019.8 633.8C1028.6 629.5 1036.6 623.8 1044.6 618.3C1050.5 614.2 1061.7 605.1 1061.7 605.1Z" fill="url(#g14)" stroke="#1e1d1b" stroke-width="1.1" stroke-linejoin="round" />
<path d="M1061.7 605.1C1061.7 605.1 1050.5 614.2 1044.6 618.3C1036.6 623.8 1028.6 629.5 1019.8 633.8C1011.4 637.9 1002.5 641.4 993.4 643.4C988.3 644.5 982.7 644.7 977.8 643.1C972.5 641.4 967.6 638 963.9 633.8C961.3 630.9 960 622.9 960 622.9C960 622.9 960.4 634.6 962.3 640C964.3 645.7 967.4 651.3 971.6 655.6C975.9 660 981.2 663.9 987.1 665.6C994.1 667.6 1001.8 668.1 1008.9 666.4C1018.8 664.1 1028.2 659.4 1036.8 654C1050.1 645.6 1074.1 625.3 1074.1 625.3Z" fill="url(#g15)" stroke="#1e1d1b" stroke-width="1.1" stroke-linejoin="round" />
<path d="M958.4 581.8C958.4 581.8 955.4 577.2 953 576C924.9 561.9 896.4 548.7 867.6 536.3C863.5 534.5 854.4 533.7 854.4 533.7L945.2 579.5Z" fill="#a09e94" stroke="#1e1d1b" stroke-width="1.1" stroke-linejoin="round" />
<path d="M945.2 579.5L854.4 533.7L841.2 549.2L932 591.9Z" fill="#7e776b" stroke="#1e1d1b" stroke-width="1.1" stroke-linejoin="round" />
<path d="M939 585.2L847.9 541.4" fill="none" stroke="#1e1d1b" stroke-width="1.1" stroke-linecap="round" stroke-linejoin="round" />
<path d="M932 591.9L841.2 549.2L834.7 558.5L927.4 607.4Z" fill="#867f73" stroke="#1e1d1b" stroke-width="1.1" stroke-linejoin="round" />
<path d="M927.4 607.4L834.7 558.5L833.9 870.9L842.9 881.3L927 918.8Z" fill="url(#g16)" stroke="#1e1d1b" stroke-width="1.1" stroke-linejoin="round" />
<ellipse cx="880.5" cy="714.4" rx="15" ry="19.5" fill="#8f8e89" stroke="#1e1d1b" stroke-width="1.1" transform="rotate(52 880.5 714.4)"/>
<ellipse cx="883.8" cy="716.4" rx="12" ry="17.5" fill="#55534f" stroke="#1e1d1b" stroke-width="0.8" transform="rotate(52 883.8 716.4)"/>
<ellipse cx="880.5" cy="880.5" rx="15" ry="19.5" fill="#8f8e89" stroke="#1e1d1b" stroke-width="1.1" transform="rotate(52 880.5 880.5)"/>
<ellipse cx="883.8" cy="882.6" rx="12" ry="17.5" fill="#55534f" stroke="#1e1d1b" stroke-width="0.8" transform="rotate(52 883.8 882.6)"/>
<path d="M900.4 757.1L889.5 745.4L863.6 735.1L861 740.3L861 825.7L892.1 845.1L900.4 841.2Z" fill="#3a3936" stroke="#1e1d1b" stroke-width="1.1" stroke-linejoin="round" />
<path d="M889.5 745.4L863.6 735.1L861 740.3L861 825.7L889.5 805Z" fill="#33322f" stroke="#1e1d1b" stroke-width="1.1" stroke-linejoin="round" />
<path d="M900.4 757.1L889.5 745.4L889.5 805L900.4 815.3Z" fill="#55534e" stroke="#1e1d1b" stroke-width="1.1" stroke-linejoin="round" />
<path d="M900.4 815.3L889.5 805L861 825.7L892.1 845.1L900.4 841.2Z" fill="#4a4844" stroke="#1e1d1b" stroke-width="1.1" stroke-linejoin="round" />
<path d="M492.7 910.2L509 901.1L509 945.1L494 927Z" fill="#6f6d67" stroke="#1e1d1b" stroke-width="1.1" stroke-linejoin="round" />
<path d="M492.7 924.4L509 929.6L509 945.1L494 927Z" fill="#3f3e3a" stroke="#1e1d1b" stroke-width="1.1" stroke-linejoin="round" />
<path d="M927.5 914.1L940.4 908.9L941.7 924.4L927.5 940Z" fill="#6f6d67" stroke="#1e1d1b" stroke-width="1.1" stroke-linejoin="round" />
<path d="M489.3 577.6L595 527.2L642.8 547.1L635.8 560.8L800.7 560.8L793 547.1L839.5 527.2L955.5 576.5L944 581L927.5 601L509 601Z" fill="url(#g17)" stroke="#1e1d1b" stroke-width="1.1" stroke-linejoin="round" />
<path d="M489.3 577.6L509 586L509 601Z" fill="#3b3a37" stroke="#1e1d1b" stroke-width="1.1" stroke-linejoin="round" />
<path d="M509 586L509 601" fill="none" stroke="#1e1d1b" stroke-width="1.1" stroke-linecap="round" stroke-linejoin="round" />
<path d="M870 541.5L955.5 576.5L944 581L866 545Z" fill="#a3a197" stroke="#1e1d1b" stroke-width="0.7" stroke-linejoin="round" />
<path d="M927.5 601L944 581L937 594L927.9 612Z" fill="#55544f" stroke="#1e1d1b" stroke-width="0.8" stroke-linejoin="round" />
<path d="M509 601L927.5 601L927.5 953.4L509 953.4Z" fill="url(#g18)" stroke="#1e1d1b" stroke-width="1.1" stroke-linejoin="round" />
<ellipse cx="717.9" cy="643.6" rx="23.8" ry="16.8" fill="url(#g19)" stroke="#1e1d1b" stroke-width="1.1"/>
<path d="M701.4 638.1C707.9 626.1 727.9 626.1 734.4 638.1C725.9 644.6 709.9 644.6 701.4 638.1Z" fill="#fff"/>
<ellipse cx="717.9" cy="875.3" rx="23.8" ry="16.8" fill="url(#g20)" stroke="#1e1d1b" stroke-width="1.1"/>
<path d="M701.4 869.8C707.9 857.8 727.9 857.8 734.4 869.8C725.9 876.3 709.9 876.3 701.4 869.8Z" fill="#fff"/>
<ellipse cx="591" cy="743.3" rx="46" ry="27" fill="url(#g21)" stroke="#1e1d1b" stroke-width="1.1"/>
<clipPath id="hc6653"><ellipse cx="591.0" cy="743.3" rx="46" ry="27"/></clipPath>
<g clip-path="url(#hc6653)"><ellipse cx="566.0" cy="730.3" rx="26" ry="17" fill="#3b3a37" stroke="#151412" stroke-width="1" transform="rotate(-28 566.0 730.3)"/><ellipse cx="561.0" cy="726.3" rx="16" ry="10" fill="#77756f" stroke="#151412" stroke-width="0.8" transform="rotate(-28 561.0 726.3)"/></g>
<ellipse cx="591" cy="908.9" rx="46" ry="27" fill="url(#g22)" stroke="#1e1d1b" stroke-width="1.1"/>
<clipPath id="hc6818"><ellipse cx="591.0" cy="908.9" rx="46" ry="27"/></clipPath>
<g clip-path="url(#hc6818)"><ellipse cx="566.0" cy="895.9" rx="26" ry="17" fill="#3b3a37" stroke="#151412" stroke-width="1" transform="rotate(-28 566.0 895.9)"/><ellipse cx="561.0" cy="891.9" rx="16" ry="10" fill="#77756f" stroke="#151412" stroke-width="0.8" transform="rotate(-28 561.0 891.9)"/></g>
<ellipse cx="844.7" cy="743.3" rx="46" ry="27" fill="url(#g23)" stroke="#1e1d1b" stroke-width="1.1"/>
<clipPath id="hc9190"><ellipse cx="844.7" cy="743.3" rx="46" ry="27"/></clipPath>
<g clip-path="url(#hc9190)"><ellipse cx="865.7" cy="730.3" rx="27" ry="17" fill="#6b2622" stroke="#1a0f0d" stroke-width="0.8" transform="rotate(28 865.7 730.3)"/>
<ellipse cx="858.7" cy="726.3" rx="7.5" ry="6.5" fill="#5a1f1c" stroke="#1a0f0d" stroke-width="0.7"/></g>
<ellipse cx="844.7" cy="908.9" rx="46" ry="27" fill="url(#g24)" stroke="#1e1d1b" stroke-width="1.1"/>
<clipPath id="hc9355"><ellipse cx="844.7" cy="908.9" rx="46" ry="27"/></clipPath>
<g clip-path="url(#hc9355)"><ellipse cx="865.7" cy="895.9" rx="27" ry="17" fill="#3a6a1e" stroke="#1a0f0d" stroke-width="0.8" transform="rotate(28 865.7 895.9)"/>
<ellipse cx="858.7" cy="891.9" rx="7.5" ry="6.5" fill="#2f5718" stroke="#1a0f0d" stroke-width="0.7"/></g>
<text x="0" y="0" transform="matrix(1.36 0 0 1 676.5 823.5)" font-family='"Liberation Sans", sans-serif' font-size="93" font-weight="normal" fill="#454340" stroke="#0c0c0b" stroke-width="1.3" stroke-linejoin="round">S</text>
<path d="M430.7 582.2L509.0 665.6" stroke="#ff0000" stroke-width="4.4"/>
<path d="M416.7 568.2L430.2 605.0L452.7 583.7Z" fill="#ff0000"/>
<path d="M562.6 724.6L617.7 782.6" stroke="#ff0000" stroke-width="4.4"/>
<path d="M430.7 748.4L509.0 830.0" stroke="#00ff2a" stroke-width="4.4"/>
<path d="M416.7 734.4L430.6 771.1L452.9 749.5Z" fill="#00ff2a"/>
<path d="M566.5 888.2L594.9 915.4" stroke="#00ff2a" stroke-width="4.4"/>
<path d="M632.0 794.0L666.9 826.6" stroke="#6a2a25" stroke-width="33.0" stroke-linecap="round"/>
<path d="M632.0 794.0L666.9 826.6" stroke="#4a1a17" stroke-width="33.0" stroke-dasharray="1.3 3.2"/>
<path d="M634.0 791.5L668.9 824.1" stroke="#76302a" stroke-width="11.5" opacity="0.35" stroke-dasharray="3.2 1.3" stroke-dashoffset="3.2"/>
<ellipse cx="672.2" cy="851.2" rx="31" ry="26" fill="#4a1a17" stroke="#1a0f0d" stroke-width="0.8" transform="rotate(-38 672.2 851.2)"/>
<ellipse cx="674.7" cy="854.2" rx="31" ry="26" fill="#6b2b26" stroke="#1a0f0d" stroke-width="0.8" transform="rotate(-38 674.7 854.2)"/>
<ellipse cx="676.7" cy="856.2" rx="25.4" ry="20.8" fill="#76302a" transform="rotate(-38 676.7 856.2)"/>
<ellipse cx="675.7" cy="855.2" rx="26.7" ry="21.8" fill="none" stroke="#1a0f0d" stroke-width="0.6" transform="rotate(-38 675.7 855.2)"/>
<ellipse cx="681.7" cy="863.2" rx="9.3" ry="7.8" fill="#6b2b26" stroke="#1a0f0d" stroke-width="0.9" transform="rotate(-38 681.7 863.2)"/>
<path d="M675.2 862.2L679.7 856.7L686.7 856.2L688.7 862.7L683.7 869.2L677.2 869.2Z" fill="#4a1a17" stroke="#1a0f0d" stroke-width="0.7" stroke-linejoin="round" />
<path d="M607.1 924.4L666.9 997.4" stroke="#7dff4a" stroke-width="34.0" stroke-linecap="round" opacity="0.35"/>
<path d="M607.1 924.4L666.9 997.4" stroke="#3d6f22" stroke-width="31.0" stroke-linecap="round"/>
<path d="M607.1 924.4L666.9 997.4" stroke="#2b5216" stroke-width="31.0" stroke-dasharray="1.3 3.2"/>
<path d="M609.1 921.9L668.9 994.9" stroke="#46792a" stroke-width="10.8" opacity="0.35" stroke-dasharray="3.2 1.3" stroke-dashoffset="3.2"/>
<ellipse cx="677.8" cy="1019.1" rx="33.5" ry="29" fill="#7dff4a" transform="rotate(-38 677.8 1019.1)" opacity="0.35"/>
<ellipse cx="675.3" cy="1016.1" rx="31.5" ry="27" fill="#2b5216" stroke="#1a0f0d" stroke-width="0.8" transform="rotate(-38 675.3 1016.1)"/>
<ellipse cx="677.8" cy="1019.1" rx="31.5" ry="27" fill="#3b6b22" stroke="#1a0f0d" stroke-width="0.8" transform="rotate(-38 677.8 1019.1)"/>
<ellipse cx="679.8" cy="1021.1" rx="25.8" ry="21.6" fill="#46792a" transform="rotate(-38 679.8 1021.1)"/>
<ellipse cx="678.8" cy="1020.1" rx="27.1" ry="22.7" fill="none" stroke="#1a0f0d" stroke-width="0.6" transform="rotate(-38 678.8 1020.1)"/>
<ellipse cx="684.8" cy="1028.1" rx="9.4" ry="8.1" fill="#3b6b22" stroke="#1a0f0d" stroke-width="0.9" transform="rotate(-38 684.8 1028.1)"/>
<path d="M678.3 1027.1L682.8 1021.6L689.8 1021.1L691.8 1027.6L686.8 1034.1L680.3 1034.1Z" fill="#2b5216" stroke="#1a0f0d" stroke-width="0.7" stroke-linejoin="round" />
<path d="M1970.6 163.5L1978.9 153.2L1978.9 360.2L1970.6 367.5Z" fill="#4a4945" stroke="#1e1d1b" stroke-width="1.1" stroke-linejoin="round" />
<path d="M1801.7 94L1815.7 89.3L1978 152.2L1972.5 158.4L1917.4 167L1908.9 145.2L1901.1 148.3L1849.1 120.4L1844.4 126.6L1820.3 125L1811.8 126.6Z" fill="url(#g25)" stroke="#1e1d1b" stroke-width="1.1" stroke-linejoin="round" />
<path d="M1779.2 125L1796.3 101L1811.8 126.6L1791.6 143.7Z" fill="#8a857a" stroke="#1e1d1b" stroke-width="1.1" stroke-linejoin="round" />
<path d="M1796.3 101L1801.7 94L1820.3 125L1811.8 126.6Z" fill="#7f7a6f" stroke="#1e1d1b" stroke-width="1.1" stroke-linejoin="round" />
<path d="M1814.9 128.9L1820.3 125L1844.4 124.4L1845.2 126.6Z" fill="#ecebe6" stroke="#1e1d1b" stroke-width="0.7" stroke-linejoin="round" />
<path d="M1692.8 221.6C1692.8 221.6 1714.5 217.2 1724.2 212.2C1734.9 206.6 1745.1 199.4 1753.2 190.4C1761.3 181.4 1767.1 170.5 1771.8 159.4C1775.8 149.9 1779.1 129.4 1779.1 129.4L1779.2 125L1791.6 143.7L1799.8 142.8C1799.8 142.8 1796.1 159.8 1792.5 167.7C1788.1 177.3 1782.8 186.6 1776 194.6C1766.8 205.4 1756.9 216.1 1744.9 223.6C1732.1 231.6 1702.7 240.2 1702.7 240.2Z" fill="#7b766a" stroke="#1e1d1b" stroke-width="1.1" stroke-linejoin="round" />
<path d="M1702.7 240.2C1702.7 240.2 1732.1 231.6 1744.9 223.6C1756.9 216.1 1766.8 205.4 1776 194.6C1782.8 186.6 1788.1 177.3 1792.5 167.7C1796.1 159.8 1799.8 142.8 1799.8 142.8L1791.6 143.7L1800.9 142.1L1810.1 151.1C1810.1 151.1 1805.5 168 1801.9 175.9C1796.9 186.7 1792.1 198 1784.3 207C1774.2 218.7 1762.5 229.5 1749.1 237C1735.7 244.5 1705.2 251.4 1705.2 251.4Z" fill="url(#g26)" stroke="#1e1d1b" stroke-width="1.1" stroke-linejoin="round" />
<path d="M1622 253.3L1702.7 240.2L1705.2 251.4L1624.5 265.7Z" fill="#8b8880" stroke="#1e1d1b" stroke-width="1.1" stroke-linejoin="round" />
<path d="M1610.8 285.6L1624.5 265.7L1705.2 251.4C1705.2 251.4 1735.7 244.5 1749.1 237C1762.5 229.5 1774.2 218.7 1784.3 207C1792.1 198 1796.9 186.7 1801.9 175.9C1805.5 168 1810.1 151.1 1810.1 151.1L1814.3 142.8L1815.3 316.7L1609.6 352Z" fill="url(#g27)" stroke="#1e1d1b" stroke-width="1.1" stroke-linejoin="round" />
<path d="M1609.6 352L1815.3 316.7L1815.3 321.3L1609.6 355.4Z" fill="#6a6862" stroke="#1e1d1b" stroke-width="0.8" stroke-linejoin="round" />
<path d="M1631.9 295.5L1634.4 291.2L1648.1 280L1792.5 223.6C1792.5 223.6 1799 222.8 1801.9 224C1803.7 224.7 1805.4 228.7 1805.4 228.7L1805.4 291.9L1796.7 298.1L1640.6 324.7L1634.4 324.1L1631.9 320.4Z" fill="#4d4b47" stroke="#1e1d1b" stroke-width="1.1" stroke-linejoin="round" />
<path d="M1640.6 324.7L1796.7 298.1L1805.4 291.9L1805.4 286.7L1795.7 291.9L1639.4 319.8L1634.4 317.9L1632.5 321L1634.4 324.1Z" fill="#8e8d87" stroke="#1e1d1b" stroke-width="0.8" stroke-linejoin="round" />
<path d="M1795.7 291.9L1805.4 286.7L1805.4 228.7L1799.8 229.8L1798.8 285.7Z" fill="#5f5d58" stroke="#1e1d1b" stroke-width="0.8" stroke-linejoin="round" />
<path d="M1791.6 143.7L1811.8 126.6L1814.1 128.9L1801.7 142.1Z" fill="#6a6860" stroke="#1e1d1b" stroke-width="0.8" stroke-linejoin="round" />
<path d="M1801.7 142.1L1811.8 126.6L1814.1 128.9L1815.7 327.7L1808.7 322.2L1801.7 312.9Z" fill="#5d5b56" stroke="#1e1d1b" stroke-width="1.1" stroke-linejoin="round" />
<path d="M1814.1 128.9L1844.4 126.6L1844.4 333.9L1840.5 335L1815.7 327.7Z" fill="url(#g28)" stroke="#1e1d1b" stroke-width="1.1" stroke-linejoin="round" />
<path d="M1844.4 126.6L1849.1 120.4L1849.1 331.6L1844.4 333.9Z" fill="#33332f" stroke="#1e1d1b" stroke-width="1.1" stroke-linejoin="round" />
<path d="M1849.1 120.4L1902.6 148.3L1902.6 360.3L1851.4 331.6L1849.1 331.6Z" fill="url(#g29)" stroke="#1e1d1b" stroke-width="1.1" stroke-linejoin="round" />
<ellipse cx="1880.4" cy="157.6" rx="18.5" ry="20.5" fill="url(#g30)" stroke="#1e1d1b" stroke-width="1.1" transform="rotate(-20 1880.4 157.6)"/>
<ellipse cx="1888.2" cy="151.4" rx="9.5" ry="11" fill="#4a4a46" stroke="#1e1d1b" stroke-width="0.9" transform="rotate(-20 1888.2 151.4)"/>
<ellipse cx="1890.2" cy="155.3" rx="4.5" ry="6" fill="#e8e8e4" transform="rotate(-20 1890.2 155.3)"/>
<ellipse cx="1880.4" cy="295.1" rx="18.5" ry="20.5" fill="url(#g31)" stroke="#1e1d1b" stroke-width="1.1" transform="rotate(-20 1880.4 295.1)"/>
<ellipse cx="1888.2" cy="288.9" rx="9.5" ry="11" fill="#4a4a46" stroke="#1e1d1b" stroke-width="0.9" transform="rotate(-20 1888.2 288.9)"/>
<ellipse cx="1890.2" cy="292.7" rx="4.5" ry="6" fill="#e8e8e4" transform="rotate(-20 1890.2 292.7)"/>
<path d="M1873.1 132.5L1886.3 137.5L1886.3 139.8L1872.7 134.7Z" fill="#4a4a46" stroke="#1e1d1b" stroke-width="0.8" stroke-linejoin="round" />
<path d="M1866.9 191.8C1867 190 1867.8 188 1869.3 187.1C1870.8 186.1 1874.7 186.8 1874.7 186.8C1874.7 186.8 1885.8 190.5 1890.2 194.1C1892.7 196.1 1894.2 199.5 1894.4 202.7C1895.7 220.8 1895.7 238.9 1894.9 257C1894.8 258.9 1893.6 261.2 1891.8 261.7C1889 262.4 1883.2 260.1 1883.2 260.1C1883.2 260.1 1874.3 256.9 1870.8 253.9C1868.5 252 1866.7 249.1 1866.5 246.1C1865.4 228 1866 209.9 1866.9 191.8Z" fill="#62625e" stroke="#1e1d1b" stroke-width="1.3" stroke-linejoin="round" />
<path d="M1880.9 198L1892.5 222.1L1886.3 219.8L1885.9 251.6L1875.5 246.9L1875.9 215.1L1870.5 212.8Z" fill="#6e6e6a" stroke="#1e1d1b" stroke-width="1.4" stroke-linejoin="round" />
<path d="M1902.6 148.3L1908.9 145.2L1917.4 167L1923.6 194.9L1923.6 322.2L1914.3 329.4L1911.2 362.5L1902.9 354.2Z" fill="#5f5e59" stroke="#1e1d1b" stroke-width="1.1" stroke-linejoin="round" />
<path d="M1908.9 145.2L1917.4 167L1923.6 194.9L1917.4 188.7L1915.8 167Z" fill="#76756f" stroke="#1e1d1b" stroke-width="0.8" stroke-linejoin="round" />
<path d="M1917.4 167L1914.3 160.7L1971.7 160L1971 170.8L1918.9 171.6Z" fill="#fbfaf7" stroke="#1e1d1b" stroke-width="0.8" stroke-linejoin="round" />
<path d="M1918.9 171.6L1971 170.8L1962.4 198L1925.2 198L1923.6 194.9Z" fill="#dedcd6" stroke="#1e1d1b" stroke-width="0.8" stroke-linejoin="round" />
<path d="M1971 170.8L1972.5 158.4L1978 152.2L1978 322.2L1962.4 322.2L1962.4 198Z" fill="#5a5954" stroke="#1e1d1b" stroke-width="0.9" stroke-linejoin="round" />
<path d="M1925.2 198L1962.4 198L1962.4 322.2L1923.6 322.2L1923.6 194.9Z" fill="url(#g32)" stroke="#1e1d1b" stroke-width="1.1" stroke-linejoin="round" />
<path d="M1925.2 198L1962.4 198L1962.4 219.8L1924.4 219.8Z" fill="#4b4842" opacity="0.55"/>
<path d="M1923.9 289.6L1962.4 289.6L1962.4 322.2L1923.6 322.2Z" fill="#8a8478" opacity="0.45"/>
<path d="M1969.2 230L1978.5 230L1978.5 358.4L1969.2 362.5L1967.1 333.5L1969.2 327.3Z" fill="#4d4c48" stroke="#1e1d1b" stroke-width="1.1" stroke-linejoin="round" />
<path d="M1960.9 230L1969.2 230L1969.2 337.7L1967.1 333.5L1958.8 326.3Z" fill="#6a6862" stroke="#1e1d1b" stroke-width="1.1" stroke-linejoin="round" />
<path d="M1913.3 331.4L1922.6 326.3L1919.5 337.7L1918.4 362.5C1918.4 362.5 1912.7 373.8 1909.1 379.1C1906.1 383.6 1898.8 391.5 1898.8 391.5L1907 372.9L1911.2 362.5Z" fill="#8f8f88" stroke="#1e1d1b" stroke-width="1.1" stroke-linejoin="round" />
<path d="M1958.8 326.3L1967.1 333.5L1966 362.5C1966 362.5 1966.1 379.6 1962.9 387.3C1959.3 396 1946.4 410.1 1946.4 410.1L1938.1 404.9C1938.1 404.9 1950 388.5 1953.6 379.1C1956.6 371.3 1957.8 354.2 1957.8 354.2Z" fill="#92928b" stroke="#1e1d1b" stroke-width="1.1" stroke-linejoin="round" />
<path d="M1922.6 326.3L1958.8 326.3L1957.8 354.2C1957.8 354.2 1956.8 371.3 1953.6 379.1C1950.7 386.2 1945.8 392.5 1940.2 397.7C1936.9 400.8 1927.7 402.9 1927.7 402.9L1915.3 403.9L1898.8 391.5C1898.8 391.5 1906.1 383.6 1909.1 379.1C1912.7 373.8 1918.4 362.5 1918.4 362.5L1919.5 337.7Z" fill="#7b766a" stroke="#1e1d1b" stroke-width="1.1" stroke-linejoin="round" />
<path d="M1794.7 592.4L1916.6 409.2C1916.6 409.2 1918.3 415.1 1920.5 417C1923 419.2 1926.5 421.1 1929.8 420.8C1935.3 420.3 1945.3 414.6 1945.3 414.6L1946.1 449.6L1917.4 491.5L1917.4 511.7L1793.9 597.9Z" fill="#595750" stroke="#1e1d1b" stroke-width="1.1" stroke-linejoin="round" />
<path d="M1945.3 414.6L1962.4 395.2C1962.4 395.2 1964.1 405.6 1963.5 410.7C1962.8 417.1 1961.1 423.5 1958.5 429.4C1955.3 436.6 1946.1 449.6 1946.1 449.6Z" fill="#53514b" stroke="#1e1d1b" stroke-width="1.1" stroke-linejoin="round" />
<path d="M1946.1 449.6C1946.1 449.6 1947.3 463.2 1946.1 469.8C1944.9 476.8 1943.1 484 1939.1 489.9C1933.3 498.4 1917.4 511.7 1917.4 511.7L1917.4 491.5Z" fill="#53514b" stroke="#1e1d1b" stroke-width="1.1" stroke-linejoin="round" />
<path d="M1916.6 409.2L1920.5 404.5C1920.5 404.5 1926.7 406.4 1929.8 406.1C1932.6 405.9 1937.6 403 1937.6 403L1945.3 414.6C1945.3 414.6 1935.3 420.3 1929.8 420.8C1926.5 421.1 1923 419.2 1920.5 417C1918.3 415.1 1916.6 409.2 1916.6 409.2Z" fill="#9a9a93" stroke="#1e1d1b" stroke-width="1.1" stroke-linejoin="round" />
<path d="M1746.6 574.6L1866.1 389.8L1877.8 385.9L1912.7 399.9L1916.6 409.2L1794.7 592.4Z" fill="#a39e92" stroke="#1e1d1b" stroke-width="1.1" stroke-linejoin="round" />
<path d="M1746.6 574.6L1794.7 592.4L1793.9 597.9L1748.1 580.3Z" fill="#8e8e88" stroke="#1e1d1b" stroke-width="1.1" stroke-linejoin="round" />
<path d="M1747.8 578.1L1794.3 595.5" fill="none" stroke="#1e1d1b" stroke-width="0.8" stroke-linecap="round" stroke-linejoin="round" />
<path d="M1807.1 498.5L1853.7 427L1877 437.1L1830.4 510.1Z" fill="#6b6962" stroke="#1e1d1b" stroke-width="1.1" stroke-linejoin="round" />
<path d="M1811.8 496.8L1855.6 429.7L1867.7 434L1824.8 499.7Z" fill="#a29d91" stroke="#1e1d1b" stroke-width="1.1" stroke-linejoin="round" />
<path d="M1824.8 499.7L1867.7 434L1877 437.1L1830.4 510.1Z" fill="#7c786e" stroke="#1e1d1b" stroke-width="1.1" stroke-linejoin="round" />
<path d="M1807.1 498.5L1811.8 496.8L1824.8 499.7L1830.4 510.1Z" fill="#8c8a83" stroke="#1e1d1b" stroke-width="1.1" stroke-linejoin="round" />
<ellipse cx="1880.1" cy="417.7" rx="9.8" ry="7.6" fill="#8a8983" stroke="#1e1d1b" stroke-width="1"/>
<ellipse cx="1880.9" cy="418.5" rx="7.8" ry="6" fill="#47453f" stroke="#1e1d1b" stroke-width="0.8"/>
<ellipse cx="1807.9" cy="524.6" rx="9.8" ry="7.6" fill="#8a8983" stroke="#1e1d1b" stroke-width="1"/>
<ellipse cx="1808.7" cy="525.4" rx="7.8" ry="6" fill="#47453f" stroke="#1e1d1b" stroke-width="0.8"/>
<path d="M1449.1 458.5L1567.1 274.5L1571.8 282.3L1565.6 314.9L1493.4 415.1L1473.2 446.9L1448.3 464.8Z" fill="#5c5952" stroke="#1e1d1b" stroke-width="1.1" stroke-linejoin="round" />
<path d="M1565.6 314.9L1565.6 365.4C1565.6 365.4 1544.9 373.2 1535.3 378.6C1526.9 383.3 1519.3 389.4 1512 395.7C1505.2 401.6 1493.4 415.1 1493.4 415.1Z" fill="#55534d" stroke="#1e1d1b" stroke-width="1.1" stroke-linejoin="round" />
<path d="M1565.6 314.9L1609.8 285.4L1609.8 353L1565.6 365.4Z" fill="url(#g34)" stroke="#1e1d1b" stroke-width="1.1" stroke-linejoin="round" />
<path d="M1565.6 365.4L1609.8 353L1609.6 355.4L1581.9 364.9Z" fill="#6a6862" stroke="#1e1d1b" stroke-width="0.7" stroke-linejoin="round" />
<path d="M1548.5 258.2C1548.5 258.2 1553.7 252.4 1557 250.5C1563.4 246.9 1570.2 244.1 1577.2 241.9C1583.8 239.9 1597.4 238 1597.4 238L1692.8 221.6L1702.7 240.2L1622 253.3C1622 253.3 1612.7 255.7 1608.3 257.5C1604.2 259.2 1596.6 263.7 1596.6 263.7L1585.7 272.2L1580.3 282.3L1571.8 282.3L1567.1 274.5L1564.8 265.2Z" fill="#7b766a" stroke="#1e1d1b" stroke-width="1.1" stroke-linejoin="round" />
<path d="M1596.6 263.7C1596.6 263.7 1604.2 259.2 1608.3 257.5C1612.7 255.7 1622 253.3 1622 253.3L1624.5 265.7L1609.8 285.4L1602 283.9L1600.5 273Z" fill="url(#g35)" stroke="#1e1d1b" stroke-width="1.1" stroke-linejoin="round" />
<path d="M1585.7 272.2L1596.6 263.7L1600.5 273L1602 283.9L1609.8 285.4L1565.6 314.9L1571.8 282.3L1580.3 282.3Z" fill="#5d5b55" stroke="#1e1d1b" stroke-width="1.1" stroke-linejoin="round" />
<path d="M1565.6 266L1580.3 269.1L1587.3 277.6L1581.9 283.4L1572.5 281.8L1567.9 274.5Z" fill="#a0a09a" stroke="#1e1d1b" stroke-width="1.1" stroke-linejoin="round" />
<path d="M1397.9 439.1L1518.2 254.3L1529.1 250.2L1564.8 265.2L1567.1 274.5L1449.1 458.5Z" fill="#a39e92" stroke="#1e1d1b" stroke-width="1.1" stroke-linejoin="round" />
<path d="M1397.9 439.1L1449.1 458.5L1448.3 464.8L1399.4 446.1Z" fill="#8e8e88" stroke="#1e1d1b" stroke-width="1.1" stroke-linejoin="round" />
<path d="M1398.9 443.5L1448.6 462.4" fill="none" stroke="#1e1d1b" stroke-width="0.8" stroke-linecap="round" stroke-linejoin="round" />
<path d="M1458.4 361.5L1505.8 290.8L1529.1 300.9L1481.7 374.7Z" fill="#6b6962" stroke="#1e1d1b" stroke-width="1.1" stroke-linejoin="round" />
<path d="M1463.1 359.9L1507.6 293.5L1519.7 297.8L1476.2 362.8Z" fill="#a29d91" stroke="#1e1d1b" stroke-width="1.1" stroke-linejoin="round" />
<path d="M1476.2 362.8L1519.7 297.8L1529.1 300.9L1481.7 374.7Z" fill="#7c786e" stroke="#1e1d1b" stroke-width="1.1" stroke-linejoin="round" />
<path d="M1458.4 361.5L1463.1 359.9L1476.2 362.8L1481.7 374.7Z" fill="#8c8a83" stroke="#1e1d1b" stroke-width="1.1" stroke-linejoin="round" />
<ellipse cx="1530.6" cy="281.5" rx="9.8" ry="7.6" fill="#8a8983" stroke="#1e1d1b" stroke-width="1"/>
<ellipse cx="1531.4" cy="282.3" rx="7.8" ry="6" fill="#47453f" stroke="#1e1d1b" stroke-width="0.8"/>
<ellipse cx="1459.5" cy="388.7" rx="9.8" ry="7.6" fill="#8a8983" stroke="#1e1d1b" stroke-width="1"/>
<ellipse cx="1460.3" cy="389.5" rx="7.8" ry="6" fill="#47453f" stroke="#1e1d1b" stroke-width="0.8"/>
<path d="M1714.6 270.1L1789.7 220.8" stroke="#3a3a36" stroke-width="7"/>
<ellipse cx="1714.6" cy="270.1" rx="3" ry="7.3" fill="#74746e" stroke="#1f1f1d" stroke-width="0.8" transform="rotate(-21.3 1714.6 270.1)"/>
<ellipse cx="1718.4" cy="267.6" rx="3" ry="7.3" fill="#74746e" stroke="#1f1f1d" stroke-width="0.8" transform="rotate(-21.3 1718.4 267.6)"/>
<ellipse cx="1722.1" cy="265.2" rx="3" ry="7.3" fill="#74746e" stroke="#1f1f1d" stroke-width="0.8" transform="rotate(-21.3 1722.1 265.2)"/>
<ellipse cx="1725.9" cy="262.7" rx="3" ry="7.3" fill="#74746e" stroke="#1f1f1d" stroke-width="0.8" transform="rotate(-21.3 1725.9 262.7)"/>
<ellipse cx="1729.6" cy="260.2" rx="3" ry="7.3" fill="#74746e" stroke="#1f1f1d" stroke-width="0.8" transform="rotate(-21.3 1729.6 260.2)"/>
<ellipse cx="1733.4" cy="257.8" rx="3" ry="7.3" fill="#74746e" stroke="#1f1f1d" stroke-width="0.8" transform="rotate(-21.3 1733.4 257.8)"/>
<ellipse cx="1737.1" cy="255.3" rx="3" ry="7.3" fill="#74746e" stroke="#1f1f1d" stroke-width="0.8" transform="rotate(-21.3 1737.1 255.3)"/>
<ellipse cx="1740.9" cy="252.8" rx="3" ry="7.3" fill="#74746e" stroke="#1f1f1d" stroke-width="0.8" transform="rotate(-21.3 1740.9 252.8)"/>
<ellipse cx="1744.6" cy="250.4" rx="3" ry="7.3" fill="#74746e" stroke="#1f1f1d" stroke-width="0.8" transform="rotate(-21.3 1744.6 250.4)"/>
<ellipse cx="1748.4" cy="247.9" rx="3" ry="7.3" fill="#74746e" stroke="#1f1f1d" stroke-width="0.8" transform="rotate(-21.3 1748.4 247.9)"/>
<ellipse cx="1752.2" cy="245.4" rx="3" ry="7.3" fill="#74746e" stroke="#1f1f1d" stroke-width="0.8" transform="rotate(-21.3 1752.2 245.4)"/>
<ellipse cx="1755.9" cy="243.0" rx="3" ry="7.3" fill="#74746e" stroke="#1f1f1d" stroke-width="0.8" transform="rotate(-21.3 1755.9 243.0)"/>
<ellipse cx="1759.7" cy="240.5" rx="3" ry="7.3" fill="#74746e" stroke="#1f1f1d" stroke-width="0.8" transform="rotate(-21.3 1759.7 240.5)"/>
<ellipse cx="1763.4" cy="238.0" rx="3" ry="7.3" fill="#74746e" stroke="#1f1f1d" stroke-width="0.8" transform="rotate(-21.3 1763.4 238.0)"/>
<ellipse cx="1767.2" cy="235.6" rx="3" ry="7.3" fill="#74746e" stroke="#1f1f1d" stroke-width="0.8" transform="rotate(-21.3 1767.2 235.6)"/>
<ellipse cx="1770.9" cy="233.1" rx="3" ry="7.3" fill="#74746e" stroke="#1f1f1d" stroke-width="0.8" transform="rotate(-21.3 1770.9 233.1)"/>
<ellipse cx="1774.7" cy="230.6" rx="3" ry="7.3" fill="#74746e" stroke="#1f1f1d" stroke-width="0.8" transform="rotate(-21.3 1774.7 230.6)"/>
<ellipse cx="1778.4" cy="228.2" rx="3" ry="7.3" fill="#74746e" stroke="#1f1f1d" stroke-width="0.8" transform="rotate(-21.3 1778.4 228.2)"/>
<ellipse cx="1782.2" cy="225.7" rx="3" ry="5.9" fill="#74746e" stroke="#1f1f1d" stroke-width="0.8" transform="rotate(-21.3 1782.2 225.7)"/>
<ellipse cx="1786.0" cy="223.2" rx="3" ry="4.5" fill="#74746e" stroke="#1f1f1d" stroke-width="0.8" transform="rotate(-21.3 1786.0 223.2)"/>
<ellipse cx="1789.7" cy="220.8" rx="3" ry="3.1" fill="#74746e" stroke="#1f1f1d" stroke-width="0.8" transform="rotate(-21.3 1789.7 220.8)"/>
<path d="M1792.7 225.4L1808.1 208.7L1786.7 216.2Z" fill="#8a8a84" stroke="#333" stroke-width="0.6" stroke-linejoin="round" />
<path d="M1711.5 290.9L1717.3 274.3L1711.9 265.9L1694.3 264.7Z" fill="#4a4a46" stroke="#222" stroke-width="0.7" stroke-linejoin="round" />
<ellipse cx="1702.9" cy="277.8" rx="12.9" ry="16.5" fill="#62625d" stroke="#1c1c1a" stroke-width="1.1" transform="rotate(-33.29867450324552 1702.9 277.8)"/>
<ellipse cx="1701.9" cy="278.5" rx="11.2" ry="14.8" fill="#6d6d68" stroke="#2a2a28" stroke-width="0.6" transform="rotate(-33.29867450324552 1701.9 278.5)"/>
<path d="M1694.4 273.8L1711.4 281.8" stroke="#1a1a18" stroke-width="2.2"/>
<path d="M1699.1 267.3L1706.7 288.3" stroke="#1a1a18" stroke-width="0.9"/>
<path d="M1706.0 266.9L1699.8 288.7" stroke="#1a1a18" stroke-width="2.2"/>
<path d="M1711.1 272.9L1694.7 282.7" stroke="#1a1a18" stroke-width="0.9"/>
<path d="M1699.9 278.8L1706.9 282.8" stroke="#d0d0ca" stroke-width="0.9"/>
<path d="M1714.7 403.0L1789.1 355.9" stroke="#3a3a36" stroke-width="7"/>
<ellipse cx="1714.7" cy="403.0" rx="3" ry="7.3" fill="#74746e" stroke="#1f1f1d" stroke-width="0.8" transform="rotate(-20.4 1714.7 403.0)"/>
<ellipse cx="1718.4" cy="400.7" rx="3" ry="7.3" fill="#74746e" stroke="#1f1f1d" stroke-width="0.8" transform="rotate(-20.4 1718.4 400.7)"/>
<ellipse cx="1722.2" cy="398.3" rx="3" ry="7.3" fill="#74746e" stroke="#1f1f1d" stroke-width="0.8" transform="rotate(-20.4 1722.2 398.3)"/>
<ellipse cx="1725.9" cy="395.9" rx="3" ry="7.3" fill="#74746e" stroke="#1f1f1d" stroke-width="0.8" transform="rotate(-20.4 1725.9 395.9)"/>
<ellipse cx="1729.6" cy="393.6" rx="3" ry="7.3" fill="#74746e" stroke="#1f1f1d" stroke-width="0.8" transform="rotate(-20.4 1729.6 393.6)"/>
<ellipse cx="1733.3" cy="391.2" rx="3" ry="7.3" fill="#74746e" stroke="#1f1f1d" stroke-width="0.8" transform="rotate(-20.4 1733.3 391.2)"/>
<ellipse cx="1737.0" cy="388.9" rx="3" ry="7.3" fill="#74746e" stroke="#1f1f1d" stroke-width="0.8" transform="rotate(-20.4 1737.0 388.9)"/>
<ellipse cx="1740.8" cy="386.5" rx="3" ry="7.3" fill="#74746e" stroke="#1f1f1d" stroke-width="0.8" transform="rotate(-20.4 1740.8 386.5)"/>
<ellipse cx="1744.5" cy="384.2" rx="3" ry="7.3" fill="#74746e" stroke="#1f1f1d" stroke-width="0.8" transform="rotate(-20.4 1744.5 384.2)"/>
<ellipse cx="1748.2" cy="381.8" rx="3" ry="7.3" fill="#74746e" stroke="#1f1f1d" stroke-width="0.8" transform="rotate(-20.4 1748.2 381.8)"/>
<ellipse cx="1751.9" cy="379.4" rx="3" ry="7.3" fill="#74746e" stroke="#1f1f1d" stroke-width="0.8" transform="rotate(-20.4 1751.9 379.4)"/>
<ellipse cx="1755.6" cy="377.1" rx="3" ry="7.3" fill="#74746e" stroke="#1f1f1d" stroke-width="0.8" transform="rotate(-20.4 1755.6 377.1)"/>
<ellipse cx="1759.4" cy="374.7" rx="3" ry="7.3" fill="#74746e" stroke="#1f1f1d" stroke-width="0.8" transform="rotate(-20.4 1759.4 374.7)"/>
<ellipse cx="1763.1" cy="372.4" rx="3" ry="7.3" fill="#74746e" stroke="#1f1f1d" stroke-width="0.8" transform="rotate(-20.4 1763.1 372.4)"/>
<ellipse cx="1766.8" cy="370.0" rx="3" ry="7.3" fill="#74746e" stroke="#1f1f1d" stroke-width="0.8" transform="rotate(-20.4 1766.8 370.0)"/>
<ellipse cx="1770.5" cy="367.7" rx="3" ry="7.3" fill="#74746e" stroke="#1f1f1d" stroke-width="0.8" transform="rotate(-20.4 1770.5 367.7)"/>
<ellipse cx="1774.2" cy="365.3" rx="3" ry="7.3" fill="#74746e" stroke="#1f1f1d" stroke-width="0.8" transform="rotate(-20.4 1774.2 365.3)"/>
<ellipse cx="1778.0" cy="362.9" rx="3" ry="7.3" fill="#74746e" stroke="#1f1f1d" stroke-width="0.8" transform="rotate(-20.4 1778.0 362.9)"/>
<ellipse cx="1781.7" cy="360.6" rx="3" ry="5.9" fill="#74746e" stroke="#1f1f1d" stroke-width="0.8" transform="rotate(-20.4 1781.7 360.6)"/>
<ellipse cx="1785.4" cy="358.2" rx="3" ry="4.5" fill="#74746e" stroke="#1f1f1d" stroke-width="0.8" transform="rotate(-20.4 1785.4 358.2)"/>
<ellipse cx="1789.1" cy="355.9" rx="3" ry="3.1" fill="#74746e" stroke="#1f1f1d" stroke-width="0.8" transform="rotate(-20.4 1789.1 355.9)"/>
<path d="M1792.1 360.5L1807.7 344.1L1786.2 351.2Z" fill="#8a8a84" stroke="#333" stroke-width="0.6" stroke-linejoin="round" />
<path d="M1711.3 423.7L1717.4 407.2L1712.1 398.8L1694.5 397.3Z" fill="#4a4a46" stroke="#222" stroke-width="0.7" stroke-linejoin="round" />
<ellipse cx="1702.9" cy="410.5" rx="12.9" ry="16.5" fill="#62625d" stroke="#1c1c1a" stroke-width="1.1" transform="rotate(-32.357847672110154 1702.9 410.5)"/>
<ellipse cx="1701.9" cy="411.1" rx="11.2" ry="14.8" fill="#6d6d68" stroke="#2a2a28" stroke-width="0.6" transform="rotate(-32.357847672110154 1701.9 411.1)"/>
<path d="M1694.4 406.5L1711.4 414.5" stroke="#1a1a18" stroke-width="2.2"/>
<path d="M1699.1 400.0L1706.7 421.0" stroke="#1a1a18" stroke-width="0.9"/>
<path d="M1706.0 399.6L1699.8 421.4" stroke="#1a1a18" stroke-width="2.2"/>
<path d="M1711.1 405.6L1694.7 415.4" stroke="#1a1a18" stroke-width="0.9"/>
<path d="M1699.9 411.5L1706.9 415.5" stroke="#d0d0ca" stroke-width="0.9"/>
<path d="M1814.9 203.4L1892.5 148.3" stroke="#e600ff" stroke-width="4.2"/>
<path d="M1815.2 337.5L1892.5 285.3" stroke="#e600ff" stroke-width="4.2"/>
<path d="M1918.9 129.7L1954.7 108.0" stroke="#e600ff" stroke-width="4.2"/>
<path d="M1973.6 92.1L1941.5 97.1L1958.1 120.7Z" fill="#e600ff" />
<path d="M1925.7 1348.2L1943.8 1341.7L1943.8 1699.3L1927 1703.2L1927 1500Z" fill="#55534e" stroke="#1e1d1b" stroke-width="1.1" stroke-linejoin="round" />
<path d="M1912.8 1358.6L1925.7 1348.2L1927 1703.2L1914.1 1701.9Z" fill="#64625c" stroke="#1e1d1b" stroke-width="1.1" stroke-linejoin="round" />
<path d="M1899.8 1384.5L1912.8 1358.6L1914.1 1701.9L1886.9 1731.6L1828.7 1745.9L1739.4 1839L1739.4 1780.8L1780.8 1738.1L1780.8 1701.9L1861 1607.4C1861 1607.4 1877.9 1582.3 1883 1568.2C1890.5 1547.3 1894.2 1525.3 1898.6 1503.5C1902.9 1482.1 1908.7 1460.6 1908.9 1438.8C1909.1 1420.4 1899.8 1384.5 1899.8 1384.5Z" fill="#6a6862" stroke="#1e1d1b" stroke-width="1.1" stroke-linejoin="round" />
<path d="M1832.6 1681.2C1832.6 1681.2 1840.9 1666.4 1846.8 1660.5C1852.7 1654.6 1859.2 1647.5 1867.5 1646.2C1872.4 1645.4 1876.8 1650.9 1879.1 1655.3C1883.2 1663.2 1885.6 1681.2 1885.6 1681.2L1886.9 1731.6L1846.8 1740.7L1828.7 1745.9Z" fill="url(#g36)" stroke="#1e1d1b" stroke-width="1.1" stroke-linejoin="round" />
<path d="M1828.7 1745.9L1846.8 1740.7L1846.8 1699.3L1832.6 1681.2Z" fill="#55534e" stroke="#1e1d1b" stroke-width="1.1" stroke-linejoin="round" />
<path d="M1669.5 1247.3C1669.5 1247.3 1676.2 1243.3 1679.9 1242.1C1687.9 1239.4 1704.5 1235.6 1704.5 1235.6L1943.8 1341.7L1943.1 1345.6L1925.7 1348.2L1912.8 1358.6L1832.6 1344.3L1828.7 1328.8L1727.7 1282.2L1717.4 1283.5L1690.2 1279.6L1685 1278.3Z" fill="url(#g37)" stroke="#1e1d1b" stroke-width="1.1" stroke-linejoin="round" />
<path d="M1632 1291.3L1660.5 1257.6L1672.1 1282.2L1642.3 1310.7Z" fill="#8a857a" stroke="#1e1d1b" stroke-width="1.1" stroke-linejoin="round" />
<path d="M1660.5 1257.6L1669.5 1247.3L1685 1278.3L1672.1 1282.2Z" fill="#807b70" stroke="#1e1d1b" stroke-width="1.1" stroke-linejoin="round" />
<path d="M1632 1291.3L1642.3 1310.7L1642.3 1335.3L1630.7 1319.8Z" fill="#77756d" stroke="#1e1d1b" stroke-width="1.1" stroke-linejoin="round" />
<path d="M1630.7 1319.8L1642.3 1335.3C1642.3 1335.3 1642.2 1344.1 1641 1348.2C1637 1361.4 1634.6 1375.6 1626.8 1387C1616.5 1402.1 1604.2 1417.4 1588 1425.9C1565.8 1437.5 1515.5 1445.3 1515.5 1445.3L1511.6 1441.4L1533.6 1437.5C1533.6 1437.5 1564.4 1426.2 1577.6 1416.8C1591.5 1406.9 1604.5 1394.9 1613.9 1380.6C1622.2 1367.9 1625.4 1352.5 1629.4 1337.9C1631 1332.1 1630.7 1319.8 1630.7 1319.8Z" fill="#757066" stroke="#1e1d1b" stroke-width="1.1" stroke-linejoin="round" />
<path d="M1642.3 1335.3L1642.3 1310.7L1672.1 1282.2L1685 1278.3L1686.3 1288.7L1664.3 1304.2L1664.3 1337.9C1664.3 1337.9 1663.8 1353.7 1661.7 1361.2C1657.3 1377.1 1654.2 1394.1 1644.9 1407.7C1634.2 1423.3 1618.8 1435.5 1603.5 1446.6C1593.5 1453.8 1569.9 1462.1 1569.9 1462.1L1524.6 1464.7L1515.5 1445.3C1515.5 1445.3 1565.8 1437.5 1588 1425.9C1604.2 1417.4 1616.5 1402.1 1626.8 1387C1634.6 1375.6 1637 1361.4 1641 1348.2C1642.2 1344.1 1642.3 1335.3 1642.3 1335.3Z" fill="url(#g38)" stroke="#1e1d1b" stroke-width="1.1" stroke-linejoin="round" />
<path d="M1664.3 1304.2L1686.3 1288.7L1687.6 1604.4L1655.3 1617.4L1639.8 1620L1500 1568.2L1500 1475L1524.6 1464.7L1569.9 1462.1C1569.9 1462.1 1593.5 1453.8 1603.5 1446.6C1618.8 1435.5 1634.2 1423.3 1644.9 1407.7C1654.2 1394.1 1657.3 1377.1 1661.7 1361.2C1663.8 1353.7 1664.3 1337.9 1664.3 1337.9Z" fill="url(#g39)" stroke="#1e1d1b" stroke-width="1.1" stroke-linejoin="round" />
<path d="M1500 1524.2L1585.4 1508.7C1585.4 1508.7 1610.1 1489.3 1624.2 1482.8C1630.5 1479.9 1638.5 1478.9 1644.9 1481.5C1649.6 1483.4 1652.7 1494.4 1652.7 1494.4L1652.7 1583.7C1652.7 1583.7 1648.7 1591.7 1644.9 1592C1596.7 1595.3 1500 1594.1 1500 1594.1Z" fill="#504e49" stroke="#1e1d1b" stroke-width="1.1" stroke-linejoin="round" />
<path d="M1500 1594.1L1644.9 1592L1652.7 1583.7L1652.7 1494.4L1648.8 1490.6L1648 1581.1L1642.3 1586.8L1500 1586.8Z" fill="#8d8b85" stroke="#1e1d1b" stroke-width="0.8" stroke-linejoin="round" />
<path d="M1686.3 1288.7L1690.2 1279.6L1717.4 1283.5L1712.2 1286.6Z" fill="#8a8a84" stroke="#1e1d1b" stroke-width="0.8" stroke-linejoin="round" />
<path d="M1687.6 1288.7L1712.2 1286.6L1713.5 1638.1L1687.6 1605.7Z" fill="url(#g40)" stroke="#1e1d1b" stroke-width="1.1" stroke-linejoin="round" />
<path d="M1712.2 1286.6L1717.4 1283.5L1727.7 1282.2L1727.7 1644.5L1713.5 1638.1Z" fill="#5c5c57" stroke="#1e1d1b" stroke-width="1.1" stroke-linejoin="round" />
<path d="M1727.7 1282.2L1828.7 1328.8L1817 1348.2C1817 1348.2 1818.5 1426 1815.2 1464.7C1812.9 1490.9 1807.3 1516.9 1800.2 1542.3C1796.2 1556.8 1789.9 1570.8 1782.1 1583.7C1775.9 1593.9 1766.7 1601.9 1758.8 1610.9C1748.5 1622.6 1727.7 1645.8 1727.7 1645.8Z" fill="url(#g41)" stroke="#1e1d1b" stroke-width="1.1" stroke-linejoin="round" />
<path d="M1687.6 1605.7L1713.5 1638.1L1727.7 1645.8L1727.7 1658.8L1714.8 1653.6L1687.6 1620Z" fill="#4f4d49" stroke="#1e1d1b" stroke-width="1.1" stroke-linejoin="round" />
<ellipse cx="1779" cy="1367.6" rx="22.5" ry="30.5" fill="#6c6c67" stroke="#1e1d1b" stroke-width="1.2" transform="rotate(-8 1779 1367.6)"/>
<ellipse cx="1779" cy="1367.6" rx="17.5" ry="24.5" fill="#74746f" stroke="#1e1d1b" stroke-width="1.0" transform="rotate(-8 1779 1367.6)"/>
<path d="M1767.4 1363.2L1790.6 1372.0" stroke="#151514" stroke-width="2.6"/>
<path d="M1773.0 1352.9L1785.0 1382.3" stroke="#151514" stroke-width="1.0"/>
<path d="M1782.1 1351.2L1775.9 1384.0" stroke="#151514" stroke-width="2.6"/>
<path d="M1789.4 1359.1L1768.6 1376.1" stroke="#151514" stroke-width="1.0"/>
<ellipse cx="1774.8" cy="1590.2" rx="22.5" ry="30.5" fill="#6c6c67" stroke="#1e1d1b" stroke-width="1.2" transform="rotate(-8 1774.8 1590.2)"/>
<ellipse cx="1774.8" cy="1590.2" rx="17.5" ry="24.5" fill="#74746f" stroke="#1e1d1b" stroke-width="1.0" transform="rotate(-8 1774.8 1590.2)"/>
<path d="M1763.2 1585.8L1786.4 1594.6" stroke="#151514" stroke-width="2.6"/>
<path d="M1768.8 1575.5L1780.8 1604.9" stroke="#151514" stroke-width="1.0"/>
<path d="M1777.9 1573.8L1771.7 1606.6" stroke="#151514" stroke-width="2.6"/>
<path d="M1785.2 1581.7L1764.4 1598.7" stroke="#151514" stroke-width="1.0"/>
<path d="M1778.2 1415.5L1787.8 1438.8L1782.1 1438.8L1782.1 1468.6L1774.3 1468.6L1774.3 1438.8L1769.2 1438.8Z" fill="#83837e" stroke="#161615" stroke-width="1.3" stroke-linejoin="round" />
<text x="1758.8" y="1510.7" font-family='"Liberation Sans", sans-serif' font-size="34" font-weight="normal" fill="#7a7a75" text-anchor="start" stroke="#161615" stroke-width="1.2" transform="rotate(6 1758.8 1510.7)">UP</text>
<path d="M1774.3 1308.1L1786 1310.7" fill="none" stroke="#222" stroke-width="1.5" stroke-linecap="round" stroke-linejoin="round" />
<path d="M1832.6 1344.3L1912.8 1358.6L1899.8 1384.5L1822.2 1372.8Z" fill="#8c877b" stroke="#1e1d1b" stroke-width="1.1" stroke-linejoin="round" />
<path d="M1822.2 1372.8L1899.8 1384.5L1885.6 1402.6L1832.6 1396.1Z" fill="#7d786d" stroke="#1e1d1b" stroke-width="1.1" stroke-linejoin="round" />
<path d="M1817 1348.2L1828.7 1328.8L1832.6 1344.3L1822.2 1372.8L1832.6 1396.1C1832.6 1396.1 1833 1424.7 1831.3 1438.8C1828.2 1464.8 1825.5 1491.2 1818.3 1516.4C1812.4 1537.2 1792.4 1576 1792.4 1576C1792.4 1576 1781.1 1587.9 1782.1 1583.7C1785.5 1569 1796.2 1556.8 1800.2 1542.3C1807.3 1516.9 1812.9 1490.9 1815.2 1464.7C1818.5 1426 1817 1348.2 1817 1348.2Z" fill="#64625c" stroke="#1e1d1b" stroke-width="1.1" stroke-linejoin="round" />
<path d="M1832.6 1396.1L1885.6 1402.6C1885.6 1402.6 1887 1426.8 1885.6 1438.8C1882.6 1464.9 1879.9 1491.2 1872.7 1516.4C1866 1539.8 1844.2 1583.7 1844.2 1583.7L1795 1581.5L1792.4 1576C1792.4 1576 1812.4 1537.2 1818.3 1516.4C1825.5 1491.2 1828.2 1464.8 1831.3 1438.8C1833 1424.7 1832.6 1396.1 1832.6 1396.1Z" fill="url(#g42)" stroke="#1e1d1b" stroke-width="1.1" stroke-linejoin="round" />
<path d="M1885.6 1402.6L1899.8 1384.5C1899.8 1384.5 1909.1 1420.4 1908.9 1438.8C1908.7 1460.6 1902.9 1482.1 1898.6 1503.5C1894.2 1525.3 1890.5 1547.3 1883 1568.2C1877.9 1582.3 1861 1607.4 1861 1607.4L1844.2 1590.6L1844.2 1583.7C1844.2 1583.7 1866 1539.8 1872.7 1516.4C1879.9 1491.2 1882.6 1464.9 1885.6 1438.8C1887 1426.8 1885.6 1402.6 1885.6 1402.6Z" fill="#77756e" stroke="#1e1d1b" stroke-width="1.1" stroke-linejoin="round" />
<path d="M1765.3 1679.9L1844.2 1590.6L1861 1607.4L1780.8 1703.2Z" fill="#94948d" stroke="#1e1d1b" stroke-width="1.1" stroke-linejoin="round" />
<path d="M1698 1678.6C1698 1678.6 1711.8 1671 1717.4 1665.6C1723.6 1659.6 1732.9 1644.9 1732.9 1644.9L1795 1581.5L1844.2 1590.6L1765.3 1679.9C1765.3 1679.9 1762.1 1690.1 1758.8 1694.1C1754.6 1699.3 1749.7 1704.9 1743.3 1707C1738.3 1708.7 1727.7 1704.5 1727.7 1704.5L1716.1 1704.5Z" fill="#7b766a" stroke="#1e1d1b" stroke-width="1.1" stroke-linejoin="round" />
<path d="M1727.7 1704.5C1727.7 1704.5 1738.3 1708.7 1743.3 1707C1749.7 1704.9 1754.6 1699.3 1758.8 1694.1C1762.1 1690.1 1765.3 1679.9 1765.3 1679.9L1780.8 1703.2C1780.8 1703.2 1765.1 1715.6 1756.2 1720C1746.4 1724.8 1735.6 1733.7 1725.2 1730.3C1717.3 1727.7 1716.1 1707 1716.1 1707Z" fill="#8a8983" stroke="#1e1d1b" stroke-width="1.1" stroke-linejoin="round" />
<path d="M1338.1 1455.3L1514.1 1442.3L1511.6 1441.4L1515.5 1445.3L1524.4 1463L1387.3 1476Z" fill="#7b766a" stroke="#1e1d1b" stroke-width="1.1" stroke-linejoin="round" />
<path d="M1387.3 1476L1524.4 1463L1524.6 1464.7L1428.7 1494.1Z" fill="#aeaca4" stroke="#1e1d1b" stroke-width="1.1" stroke-linejoin="round" />
<path d="M1312.2 1520L1387.3 1476L1428.7 1494.1L1524.6 1464.7L1500 1475L1500 1568.2L1529.6 1633.9L1312.2 1639Z" fill="#5f5d58" stroke="#1e1d1b" stroke-width="1.1" stroke-linejoin="round" />
<path d="M1320 1548.4C1320.4 1545.3 1322.7 1542.6 1325.2 1540.7C1328.1 1538.5 1335.5 1536.8 1335.5 1536.8L1500 1524.2L1500 1594.1C1500 1594.1 1390.4 1601.7 1335.5 1602.8C1330.9 1602.9 1325.6 1601.1 1322.6 1597.6C1319.7 1594.3 1320 1584.7 1320 1584.7C1320 1584.7 1318.6 1560.4 1320 1548.4Z" fill="#504e49" stroke="#1e1d1b" stroke-width="1.1" stroke-linejoin="round" />
<path d="M1335.5 1602.8L1500 1594.1L1500 1586.8L1336.8 1593.7L1326.4 1589.9C1326.4 1589.9 1321 1595.3 1322.6 1597.6C1325.3 1601.4 1335.5 1602.8 1335.5 1602.8Z" fill="#8d8b85" stroke="#1e1d1b" stroke-width="0.8" stroke-linejoin="round" />
<path d="M1228.1 1520L1281.2 1507L1312.2 1520L1312.2 1639L1265.6 1640.3L1257.9 1654.6L1228.1 1646.8Z" fill="#595751" stroke="#1e1d1b" stroke-width="1.1" stroke-linejoin="round" />
<path d="M1265.6 1640.3L1529.6 1633.9L1527 1646.8L1257.9 1654.6Z" fill="#6a6862" stroke="#1e1d1b" stroke-width="0.8" stroke-linejoin="round" />
<path d="M1206.1 1514.3L1228.1 1507.6L1228.1 1646.8L1206.1 1662.3Z" fill="#55534e" stroke="#1e1d1b" stroke-width="1.1" stroke-linejoin="round" />
<path d="M1166 1525.7L1206.1 1514.3L1206.1 1662.3L1164.7 1661Z" fill="#74746f" stroke="#1e1d1b" stroke-width="1.1" stroke-linejoin="round" />
<path d="M1083.4 1610L1166 1525.7L1164.7 1661L1083.4 1692Z" fill="#55534d" stroke="#1e1d1b" stroke-width="1.1" stroke-linejoin="round" />
<path d="M1164.7 1661L1206.1 1662.3L1203.5 1670.6L1083.4 1700.5L1083.4 1692Z" fill="#6a6862" stroke="#1e1d1b" stroke-width="0.8" stroke-linejoin="round" />
<path d="M1206.1 1662.3L1228.1 1646.8L1257.9 1654.6L1203.5 1670.6Z" fill="#64625c" stroke="#1e1d1b" stroke-width="0.8" stroke-linejoin="round" />
<path d="M972.1 1652.7L996.7 1634.6L1155.8 1487C1155.8 1487 1163.9 1466.6 1172.7 1461.2C1179.3 1457.2 1196 1462.5 1196 1462.5L1214.1 1471.5L1223.1 1487L1224.4 1505.2L1203.7 1512.9L1164.9 1525.9L1083.4 1612.6L1080.8 1668.2L1043.3 1685Z" fill="url(#g43)" stroke="#1e1d1b" stroke-width="1.1" stroke-linejoin="round" />
<path d="M1223.1 1487L1229.6 1494.8L1240 1514.2L1228.3 1519.4L1224.4 1505.2Z" fill="#8f8f88" stroke="#1e1d1b" stroke-width="1.1" stroke-linejoin="round" />
<path d="M1010.9 1621.6L1128.7 1497.4L1159.7 1509L1036.8 1638.4Z" fill="#5d5b55" stroke="#1e1d1b" stroke-width="1.1" stroke-linejoin="round" />
<path d="M1020.5 1616.8L1130 1501.3L1144.6 1505L1037.4 1618.1Z" fill="#8f8b80" stroke="#1e1d1b" stroke-width="1.1" stroke-linejoin="round" />
<path d="M1037.4 1618.1L1144.6 1505L1159.7 1509L1036.8 1638.4Z" fill="#66635c" stroke="#1e1d1b" stroke-width="1.1" stroke-linejoin="round" />
<path d="M1010.9 1621.6L1020.5 1616.8L1037.4 1618.1L1036.8 1638.4Z" fill="#7f7d76" stroke="#1e1d1b" stroke-width="1.1" stroke-linejoin="round" />
<ellipse cx="1167.5" cy="1490.1" rx="13" ry="9.5" fill="#8a8882" stroke="#1e1d1b" stroke-width="1"/>
<ellipse cx="1168.5" cy="1491.1" rx="10.1" ry="7.1" fill="#55534e" stroke="#1e1d1b" stroke-width="0.8"/>
<ellipse cx="1007" cy="1656.6" rx="13" ry="9.5" fill="#8a8882" stroke="#1e1d1b" stroke-width="1"/>
<ellipse cx="1008" cy="1657.6" rx="10.1" ry="7.1" fill="#55534e" stroke="#1e1d1b" stroke-width="0.8"/>
<path d="M1709.6 1727.7C1709.6 1727.7 1720 1731.2 1725.2 1730.3C1735.9 1728.5 1756.2 1720 1756.2 1720L1780.8 1701.9L1780.8 1738.1L1739.4 1780.8L1709.6 1808Z" fill="#5c5a54" stroke="#1e1d1b" stroke-width="1.1" stroke-linejoin="round" />
<path d="M1709.6 1808L1739.4 1780.8L1739.4 1839L1651.4 1903.7L1651.4 1862.3Z" fill="#55534d" stroke="#1e1d1b" stroke-width="1.1" stroke-linejoin="round" />
<path d="M1651.4 1903.7L1739.4 1839L1828.7 1745.9C1828.7 1745.9 1813.1 1782.8 1800.2 1797.6C1783.3 1817 1759.4 1829.1 1740.7 1846.8C1728.2 1858.6 1720.7 1875.3 1707 1885.6C1693.4 1895.8 1660.5 1906.8 1660.5 1906.8Z" fill="#4f4d48" stroke="#1e1d1b" stroke-width="1.1" stroke-linejoin="round" />
<path d="M1500.2 1950.3L1709.6 1729L1709.6 1808L1651.4 1862.3L1651.4 1903.7L1644.9 1908.9L1497.6 1954.2Z" fill="#57554f" stroke="#1e1d1b" stroke-width="1.1" stroke-linejoin="round" />
<path d="M1438.1 1911.5L1452.3 1888.2L1505.4 1830L1545.5 1817L1629.4 1704.5C1629.4 1704.5 1630.4 1698.9 1632 1696.7C1635.6 1691.8 1639.6 1686.6 1644.9 1683.7C1652 1679.8 1660.2 1677.7 1668.2 1676.8C1675.1 1676 1688.9 1678.6 1688.9 1678.6L1707 1686.3L1716.1 1704.5L1709.6 1729L1500.2 1950.3Z" fill="url(#g44)" stroke="#1e1d1b" stroke-width="1.1" stroke-linejoin="round" />
<path d="M1438.1 1911.5L1500.2 1950.3L1497.6 1954.2L1444.6 1924.4Z" fill="#6f6d66" stroke="#1e1d1b" stroke-width="1.1" stroke-linejoin="round" />
<path d="M1527.4 1844.2L1642.5 1721.3L1673.6 1734.2L1552 1863.6Z" fill="#5d5b55" stroke="#1e1d1b" stroke-width="1.1" stroke-linejoin="round" />
<path d="M1536.9 1839.6L1644 1725.3L1658.5 1729.6L1553.7 1841.5Z" fill="#8f8b80" stroke="#1e1d1b" stroke-width="1.1" stroke-linejoin="round" />
<path d="M1553.7 1841.5L1658.5 1729.6L1673.6 1734.2L1552 1863.6Z" fill="#66635c" stroke="#1e1d1b" stroke-width="1.1" stroke-linejoin="round" />
<path d="M1527.4 1844.2L1536.9 1839.6L1553.7 1841.5L1552 1863.6Z" fill="#7f7d76" stroke="#1e1d1b" stroke-width="1.1" stroke-linejoin="round" />
<ellipse cx="1520.9" cy="1881.7" rx="13" ry="9.5" fill="#8a8882" stroke="#1e1d1b" stroke-width="1"/>
<ellipse cx="1521.9" cy="1882.7" rx="10.1" ry="7.1" fill="#55534e" stroke="#1e1d1b" stroke-width="0.8"/>
<ellipse cx="1681.4" cy="1716.1" rx="13" ry="9.5" fill="#8a8882" stroke="#1e1d1b" stroke-width="1"/>
<ellipse cx="1682.4" cy="1717.1" rx="10.1" ry="7.1" fill="#55534e" stroke="#1e1d1b" stroke-width="0.8"/>
<path d="M1716.1 1704.5L1727.7 1704.5C1727.7 1704.5 1734.7 1714.4 1734.2 1720C1733.8 1724.5 1725.2 1730.3 1725.2 1730.3L1712.2 1729Z" fill="#9a9a93" stroke="#1e1d1b" stroke-width="1.1" stroke-linejoin="round" />
<path d="M985 1498.7C985 1498.7 1044.7 1436.7 1075.6 1406.8C1078.9 1403.6 1082.8 1400.4 1087.3 1399.6C1091.6 1398.8 1100.2 1402.2 1100.2 1402.2L1114.4 1431.4C1114.4 1431.4 1106.5 1430.2 1102.8 1431.4C1098.4 1432.9 1091.1 1439.2 1091.1 1439.2L1025.2 1507.7L1017.4 1494.8Z" fill="#55534e" stroke="#1e1d1b" stroke-width="1.1" stroke-linejoin="round" />
<path d="M1100.2 1402.2L1544.2 1599.6L1541.6 1608.7L1114.4 1431.4Z" fill="#4a4844" stroke="#1e1d1b" stroke-width="1.1" stroke-linejoin="round" />
<path d="M1102.6 1403.5L1543.8 1597.6C1543.8 1597.6 1543.4 1609.8 1540 1614.4C1536.4 1619.2 1524.4 1623.5 1524.4 1623.5L1112.9 1422.9Z" fill="#4a4844" stroke="#1e1d1b" stroke-width="1.1" stroke-linejoin="round" />
<path d="M876.3 1603.5L884.1 1589.3L912.6 1560.8L913.9 1585.4L885.4 1613.9Z" fill="#4d4b46" stroke="#1e1d1b" stroke-width="1.1" stroke-linejoin="round" />
<path d="M929.4 1560.8L941 1554.3L988.9 1505.2L985 1500L1016.1 1492.2L1025.2 1507.7L1025.2 1538.8L965.6 1599.6L941 1613.9L913.9 1602.2L908.7 1585.4L913.9 1562.1Z" fill="#5a5852" stroke="#1e1d1b" stroke-width="1.1" stroke-linejoin="round" />
<path d="M941 1554.3L988.9 1505.2L1016.1 1523.3L965.6 1590.6L944.9 1567.3Z" fill="#8c887d" stroke="#1e1d1b" stroke-width="1.1" stroke-linejoin="round" />
<path d="M988.9 1505.2L985 1500L1016.1 1492.2L1025.2 1507.7L1016.1 1523.3Z" fill="#77756e" stroke="#1e1d1b" stroke-width="1.1" stroke-linejoin="round" />
<path d="M1016.1 1523.3L1025.2 1507.7L1025.2 1538.8L965.6 1599.6L965.6 1590.6Z" fill="#66645e" stroke="#1e1d1b" stroke-width="1.1" stroke-linejoin="round" />
<path d="M929.4 1560.8L941 1554.3L944.9 1567.3L965.6 1590.6L965.6 1599.6L941 1613.9L933.3 1598.3L926.8 1569.9Z" fill="#7a7871" stroke="#1e1d1b" stroke-width="1.1" stroke-linejoin="round" />
<path d="M913.9 1562.1L929.4 1560.8L926.8 1569.9L933.3 1598.3L941 1613.9L913.9 1602.2L908.7 1585.4Z" fill="#64625c" stroke="#1e1d1b" stroke-width="1.1" stroke-linejoin="round" />
<path d="M866 1758.8L955.3 1664.3L968.2 1663L1238.7 1782.1L1240 1789.9L1144.2 1883L1133.9 1884.3L869.9 1766.6Z" fill="#4a4844" stroke="#1e1d1b" stroke-width="1.1" stroke-linejoin="round" />
<path d="M885.4 1767.9L970.8 1678.6L1227 1797.6L1218 1808L976 1694.1L903.5 1782.1Z" fill="#8f8a7f" stroke="#1e1d1b" stroke-width="1.1" stroke-linejoin="round" />
<path d="M903.5 1782.1L968.2 1687.6L981.2 1696.7L961.7 1721.3Z" fill="#4f4d48" stroke="#1e1d1b" stroke-width="1.1" stroke-linejoin="round" />
<path d="M968.2 1687.6L1218 1808L1142.9 1774.3L1070.4 1736.8L961.7 1721.3Z" fill="#55534e" stroke="#1e1d1b" stroke-width="1.1" stroke-linejoin="round" />
<path d="M903.5 1782.1L961.7 1721.3L1070.4 1736.8L991.5 1819.6Z" fill="#ffffff" stroke="#1e1d1b" stroke-width="1.1" stroke-linejoin="round" />
<path d="M1070.4 1854.6L1142.9 1774.3L1218 1808C1218 1808 1171.9 1858.6 1146.8 1881.7C1144.2 1884.1 1136.4 1883 1136.4 1883Z" fill="#ffffff" stroke="#1e1d1b" stroke-width="1.1" stroke-linejoin="round" />
<path d="M961.7 1721.3L976 1704.5L1030.3 1727.7L1004.5 1738.1L968.2 1720Z" fill="#5a5852" stroke="#1e1d1b" stroke-width="1.1" stroke-linejoin="round" />
<path d="M991.5 1819.6L1070.4 1736.8L1136.4 1766.6L1058.8 1848.1Z" fill="#9d978b" stroke="#1e1d1b" stroke-width="1.1" stroke-linejoin="round" />
<path d="M1058.8 1848.1L1136.4 1766.6L1142.9 1774.3L1070.4 1854.6Z" fill="#4f4d48" stroke="#1e1d1b" stroke-width="1.1" stroke-linejoin="round" />
<path d="M869.9 1766.6L885.4 1767.9L903.5 1782.1L991.5 1819.6L1058.8 1848.1L1070.4 1854.6L1136.4 1883L1133.9 1884.3Z" fill="#8f8a7f" stroke="#1e1d1b" stroke-width="1.1" stroke-linejoin="round" />
<path d="M1097.6 1692.8L1108 1691.5L1174 1721.3L1181.7 1734.2L1177.8 1743.3L1141.6 1727.7Z" fill="#8e8e88" stroke="#1e1d1b" stroke-width="1.1" stroke-linejoin="round" />
<path d="M1141.6 1727.7L1154.6 1720L1174 1721.3L1181.7 1734.2L1177.8 1743.3Z" fill="#55534e" stroke="#1e1d1b" stroke-width="1.1" stroke-linejoin="round" />
<path d="M828.5 1598.3C828.5 1598.3 828.6 1593.7 829.8 1591.9C833.4 1586.6 842.7 1577.6 842.7 1577.6L1080.8 1334.3C1080.8 1334.3 1088.1 1328.4 1092.4 1326.6C1096.5 1324.9 1101 1323.8 1105.4 1324C1109.9 1324.2 1118.3 1327.9 1118.3 1327.9L1174 1355.1L1180.4 1365.4L1177.6 1355.6L1185.4 1380.2L1197 1391.9C1197 1391.9 1482.2 1500.2 1624.4 1555.6C1629.1 1557.4 1634.2 1559.5 1637.4 1563.4C1639.9 1566.5 1640 1571.1 1640 1575.1C1640 1578.6 1637.4 1585.4 1637.4 1585.4C1637.4 1585.4 1484.1 1748.6 1404.5 1827.4C1397.5 1834.3 1378.6 1841.6 1378.6 1841.6L1177.8 1899.8L1155.8 1902.4L841.4 1764L828.5 1748.4ZM876.3 1603.5C875.3 1600.6 876.1 1597.1 877.6 1594.4C878.9 1592 884.1 1589.3 884.1 1589.3L912.6 1560.8L929.4 1560.8L941 1554.3L990.2 1503.9L985 1498.7C985 1498.7 1044.7 1436.7 1075.6 1406.8C1078.9 1403.6 1082.8 1400.4 1087.3 1399.6C1091.6 1398.8 1100.2 1402.2 1100.2 1402.2C1100.2 1402.2 1396.8 1532.5 1544.2 1599.6C1545.8 1600.3 1546 1603.1 1545.5 1604.8C1545 1606.6 1541.6 1608.7 1541.6 1608.7L1376 1800.2C1376 1800.2 1369.9 1808.3 1365.6 1810.6C1360.1 1813.6 1353.7 1815.2 1347.5 1815.7C1343.1 1816.1 1334.6 1813.1 1334.6 1813.1L903.5 1621.6L882.8 1610C882.8 1610 877.3 1606.4 876.3 1603.5ZM866 1758.8C865.4 1756.5 868.6 1752.3 868.6 1752.3C868.6 1752.3 924 1693.9 952.7 1665.6C954.8 1663.6 957.6 1661.9 960.5 1661.7C964 1661.4 970.8 1664.3 970.8 1664.3C970.8 1664.3 1149.2 1740.6 1237.4 1780.8C1239.6 1781.8 1240.5 1784.9 1240.5 1787.3C1240.5 1789.3 1237.4 1792.4 1237.4 1792.4C1237.4 1792.4 1178.1 1853.1 1146.8 1881.7C1144.1 1884.1 1140 1884.5 1136.4 1884.8C1133.8 1885 1128.7 1883 1128.7 1883C1128.7 1883 957.1 1807.9 872.5 1767.9C869.1 1766.3 866.9 1762.4 866 1758.8Z" fill="url(#g45)" fill-rule="evenodd" stroke="#1e1d1b" stroke-width="1.1" stroke-linejoin="round"/>
<path d="M828.5 1748.4L841.4 1764L855.6 1792.4L846.6 1782.1Z" fill="#6a6862" stroke="#1e1d1b" stroke-width="1.1" stroke-linejoin="round" />
<path d="M841.4 1764L1155.8 1902.4L1170.1 1930.9L855.6 1792.4Z" fill="#55534d" stroke="#1e1d1b" stroke-width="1.1" stroke-linejoin="round" />
<path d="M1155.8 1902.4L1177.8 1899.8L1194.7 1932.2L1170.1 1930.9Z" fill="#5d5b55" stroke="#1e1d1b" stroke-width="1.1" stroke-linejoin="round" />
<path d="M1177.8 1899.8L1378.6 1841.6L1394.1 1870.1L1194.7 1932.2Z" fill="#4f4d48" stroke="#1e1d1b" stroke-width="1.1" stroke-linejoin="round" />
<path d="M1378.6 1841.6L1404.5 1827.4L1418.7 1857.1L1394.1 1870.1Z" fill="#5d5b55" stroke="#1e1d1b" stroke-width="1.1" stroke-linejoin="round" />
<path d="M1404.5 1827.4L1637.4 1586.7C1637.4 1586.7 1652 1596.1 1655.5 1603.5C1657.4 1607.6 1651.6 1616.5 1651.6 1616.5L1418.7 1857.1Z" fill="#55534d" stroke="#1e1d1b" stroke-width="1.1" stroke-linejoin="round" />
<path d="M1637.4 1564.7C1637.4 1564.7 1652.8 1584.5 1658.1 1595.8C1659.2 1598.3 1655.5 1603.5 1655.5 1603.5L1637.4 1586.7L1640 1575.1Z" fill="#7b7972" stroke="#1e1d1b" stroke-width="1.1" stroke-linejoin="round" />
<path d="M1180.4 1365.4L1193.4 1386.1L1185.4 1380.2L1177.6 1355.6Z" fill="#5a5852" stroke="#1e1d1b" stroke-width="1.1" stroke-linejoin="round" />
<ellipse cx="1091.1" cy="1351.2" rx="26" ry="19.5" fill="url(#g46)" stroke="#1e1d1b" stroke-width="1.1" transform="rotate(-20 1091.1 1351.2)"/>
<ellipse cx="1095.1" cy="1359.2" rx="14.3" ry="9.8" fill="#6a6862" stroke="#1e1d1b" stroke-width="0.9" transform="rotate(-20 1095.1 1359.2)"/>
<ellipse cx="1098.1" cy="1361.2" rx="9.4" ry="6.4" fill="#8e8c86" stroke="#1e1d1b" stroke-width="0.8" transform="rotate(-20 1098.1 1361.2)"/>
<ellipse cx="930.7" cy="1518.1" rx="26" ry="19.5" fill="url(#g47)" stroke="#1e1d1b" stroke-width="1.1" transform="rotate(-20 930.7 1518.1)"/>
<ellipse cx="934.7" cy="1526.1" rx="14.3" ry="9.8" fill="#6a6862" stroke="#1e1d1b" stroke-width="0.9" transform="rotate(-20 934.7 1526.1)"/>
<ellipse cx="937.7" cy="1528.1" rx="9.4" ry="6.4" fill="#8e8c86" stroke="#1e1d1b" stroke-width="0.8" transform="rotate(-20 937.7 1528.1)"/>
<ellipse cx="1605" cy="1577.6" rx="26" ry="19.5" fill="url(#g48)" stroke="#1e1d1b" stroke-width="1.1" transform="rotate(-20 1605 1577.6)"/>
<ellipse cx="1609" cy="1585.6" rx="14.3" ry="9.8" fill="#6a6862" stroke="#1e1d1b" stroke-width="0.9" transform="rotate(-20 1609 1585.6)"/>
<ellipse cx="1612" cy="1587.6" rx="9.4" ry="6.4" fill="#8e8c86" stroke="#1e1d1b" stroke-width="0.8" transform="rotate(-20 1612 1587.6)"/>
<ellipse cx="1444.6" cy="1745.9" rx="26" ry="19.5" fill="url(#g49)" stroke="#1e1d1b" stroke-width="1.1" transform="rotate(-20 1444.6 1745.9)"/>
<ellipse cx="1448.6" cy="1753.9" rx="14.3" ry="9.8" fill="#6a6862" stroke="#1e1d1b" stroke-width="0.9" transform="rotate(-20 1448.6 1753.9)"/>
<ellipse cx="1451.6" cy="1755.9" rx="9.4" ry="6.4" fill="#8e8c86" stroke="#1e1d1b" stroke-width="0.8" transform="rotate(-20 1451.6 1755.9)"/>
<path d="M1370.8 1795L1381.2 1766.6L1398 1771.7L1378.6 1789.9Z" fill="#8e8e88" stroke="#1e1d1b" stroke-width="1.1" stroke-linejoin="round" />
<path d="M1381.2 1766.6L1388.9 1758.8L1398 1771.7Z" fill="#6a6862" stroke="#1e1d1b" stroke-width="1.1" stroke-linejoin="round" />
<path d="M1713.5 751.8L1728 742.7L1829.4 787L1829.4 1138.9L1817 1142.2L1713.5 1097.5Z" fill="#6e6e6a" stroke="#1e1d1b" stroke-width="1.1" stroke-linejoin="round" />
<path d="M1713.5 751.8L1817 796.1L1817 1142.2L1713.5 1097.5Z" fill="url(#g50)" stroke="#1e1d1b" stroke-width="1.1" stroke-linejoin="round" />
<path d="M1713.5 751.8L1728 742.7L1829.4 787L1817 796.1Z" fill="#9a9a95" stroke="#1e1d1b" stroke-width="0.9" stroke-linejoin="round" />
<path d="M1817 796.1L1829.4 787L1829.4 1138.9L1817 1142.2Z" fill="#5c5c58" stroke="#1e1d1b" stroke-width="0.9" stroke-linejoin="round" />
<path d="M1823.2 791.9L1823.2 1140.2" fill="none" stroke="#1e1d1b" stroke-width="0.8" stroke-linecap="round" stroke-linejoin="round" />
<text x="0" y="0" transform="matrix(0.98 0.42 0 1 1730.5 881)" font-family='"Liberation Sans", sans-serif' font-size="105" font-weight="normal" fill="#83837f" stroke="#1b1b1a" stroke-width="1.3" stroke-linejoin="round">S</text>
<text x="0" y="0" font-family='"Liberation Sans", sans-serif' font-size="52" font-weight="normal" fill="#83837f" text-anchor="start" textLength="62.1" lengthAdjust="spacingAndGlyphs" stroke="#1b1b1a" stroke-width="1.3" transform="matrix(0.93 0.36 0 1 1737.5 990.7)">XL</text>
<text x="0" y="0" font-family='"Liberation Sans", sans-serif' font-size="52" font-weight="normal" fill="#83837f" text-anchor="start" textLength="82.8" lengthAdjust="spacingAndGlyphs" stroke="#1b1b1a" stroke-width="1.3" transform="matrix(0.93 0.36 0 1 1722.6 1052.8)">AIR</text>
<path d="M1767.5 1128V1296" stroke="#ffe900" stroke-width="3.6"/>
<path d="M1767.5 1317L1752.5 1286H1782.5Z" fill="#ffe900"/>
<path d="M1066.6 1308.5L1098.9 1366.7" stroke="#0a6eff" stroke-width="4.2"/>
<path d="M904.8 1472.8L939.8 1533.6" stroke="#0a6eff" stroke-width="4.2"/>
<path d="M1139.0 1443.0L1149.6 1460.2" stroke="#0a6eff" stroke-width="4.2"/>
<path d="M1167.5 1489.1L1134.5 1467.2L1162.6 1449.8Z" fill="#0a6eff"/>
<path d="M973.4 1594.4L991.5 1626.2" stroke="#0a6eff" stroke-width="4.2"/>
<path d="M1008.3 1655.8L976.2 1632.7L1004.9 1616.3Z" fill="#0a6eff"/>
<path d="M1420.9 1699.8L1453.3 1759.4" stroke="#0a6eff" stroke-width="4.2"/>
<path d="M1579.1 1533.6L1614.1 1593.2" stroke="#0a6eff" stroke-width="4.2"/>
<path d="M1637.4 1634.6L1666.0 1685.2" stroke="#0a6eff" stroke-width="4.2"/>
<path d="M1682.7 1714.8L1650.6 1691.6L1679.4 1675.3Z" fill="#0a6eff"/>
<path d="M1476.9 1801.5L1504.7 1852.6" stroke="#0a6eff" stroke-width="4.2"/>
<path d="M1520.9 1882.5L1489.2 1858.7L1518.2 1843.0Z" fill="#0a6eff"/>
<path d="M1038.2 1255.2L1061.4 1298.1" stroke="#1d1d1d" stroke-width="18.0" stroke-linecap="round"/>
<path d="M1038.2 1255.2L1061.4 1298.1" stroke="#454545" stroke-width="15.5" stroke-dasharray="1.2 2.4"/>
<path d="M1013.6 1251.9L1033.1 1264.8L1048.9 1256.2L1053.2 1244.9Z" fill="#262626" stroke="#0c0c0c" stroke-width="0.6" stroke-linejoin="round" />
<ellipse cx="1033.4" cy="1246.4" rx="24.5" ry="17" fill="#3a3a3a" stroke="#0d0d0d" stroke-width="1" transform="rotate(-14 1033.4 1246.4)"/>
<ellipse cx="1033.4" cy="1245.6" rx="22.8" ry="15.3" fill="#333" transform="rotate(-14 1033.4 1245.6)"/>
<path d="M1027.4 1245.4L1030.9 1241.4L1036.9 1241.9L1039.4 1246.4L1035.9 1250.4L1029.9 1249.9Z" fill="#4a4a4a" stroke="#0a0a0a" stroke-width="0.9" stroke-linejoin="round" />
<path d="M877.7 1422.1L900.9 1465.0" stroke="#1d1d1d" stroke-width="18.0" stroke-linecap="round"/>
<path d="M877.7 1422.1L900.9 1465.0" stroke="#454545" stroke-width="15.5" stroke-dasharray="1.2 2.4"/>
<path d="M853.2 1418.8L872.7 1431.7L888.5 1423.1L892.8 1411.8Z" fill="#262626" stroke="#0c0c0c" stroke-width="0.6" stroke-linejoin="round" />
<ellipse cx="873" cy="1413.3" rx="24.5" ry="17" fill="#3a3a3a" stroke="#0d0d0d" stroke-width="1" transform="rotate(-14 873 1413.3)"/>
<ellipse cx="873" cy="1412.5" rx="22.8" ry="15.3" fill="#333" transform="rotate(-14 873 1412.5)"/>
<path d="M867 1412.3L870.5 1408.3L876.5 1408.8L879 1413.3L875.5 1417.3L869.5 1416.8Z" fill="#4a4a4a" stroke="#0a0a0a" stroke-width="0.9" stroke-linejoin="round" />
<path d="M1392.1 1647.2L1416.3 1690.8" stroke="#1d1d1d" stroke-width="18.0" stroke-linecap="round"/>
<path d="M1392.1 1647.2L1416.3 1690.8" stroke="#454545" stroke-width="15.5" stroke-dasharray="1.2 2.4"/>
<path d="M1367.6 1644.1L1387.2 1656.9L1402.9 1648.1L1407 1636.9Z" fill="#262626" stroke="#0c0c0c" stroke-width="0.6" stroke-linejoin="round" />
<ellipse cx="1387.3" cy="1638.5" rx="24.5" ry="17" fill="#3a3a3a" stroke="#0d0d0d" stroke-width="1" transform="rotate(-14 1387.3 1638.5)"/>
<ellipse cx="1387.3" cy="1637.7" rx="22.8" ry="15.3" fill="#333" transform="rotate(-14 1387.3 1637.7)"/>
<path d="M1381.3 1637.5L1384.8 1633.5L1390.8 1634L1393.3 1638.5L1389.8 1642.5L1383.8 1642Z" fill="#4a4a4a" stroke="#0a0a0a" stroke-width="0.9" stroke-linejoin="round" />
<path d="M1552.7 1482.5L1575.1 1522.9" stroke="#1d1d1d" stroke-width="18.0" stroke-linecap="round"/>
<path d="M1552.7 1482.5L1575.1 1522.9" stroke="#454545" stroke-width="15.5" stroke-dasharray="1.2 2.4"/>
<path d="M1528.2 1479.3L1547.8 1492.1L1563.5 1483.3L1567.6 1472.1Z" fill="#262626" stroke="#0c0c0c" stroke-width="0.6" stroke-linejoin="round" />
<ellipse cx="1547.9" cy="1473.7" rx="24.5" ry="17" fill="#3a3a3a" stroke="#0d0d0d" stroke-width="1" transform="rotate(-14 1547.9 1473.7)"/>
<ellipse cx="1547.9" cy="1472.9" rx="22.8" ry="15.3" fill="#333" transform="rotate(-14 1547.9 1472.9)"/>
<path d="M1541.9 1472.7L1545.4 1468.7L1551.4 1469.2L1553.9 1473.7L1550.4 1477.7L1544.4 1477.2Z" fill="#4a4a4a" stroke="#0a0a0a" stroke-width="0.9" stroke-linejoin="round" />
<path d="M724.4 1386.3L736.1 1378.6L737.4 1580.4L725.7 1586.9Z" fill="#55534e" stroke="#1e1d1b" stroke-width="1.1" stroke-linejoin="round" />
<path d="M716.7 1396.7L724.4 1386.3L725.7 1586.9L703.7 1629.6L699.8 1429Z" fill="#6a6862" stroke="#1e1d1b" stroke-width="1.1" stroke-linejoin="round" />
<path d="M680.4 1629.6C680.4 1629.6 684.1 1611.8 688.2 1603.7C690.4 1599.3 693.7 1593.4 698.6 1593.4C702.4 1593.4 703.7 1603.7 703.7 1603.7L703.7 1629.6L672.7 1640Z" fill="url(#g51)" stroke="#1e1d1b" stroke-width="1.1" stroke-linejoin="round" />
<path d="M538.1 1278.9L561.4 1266.8L736.1 1378.6L724.4 1386.3L716.7 1396.7L661 1385L658.4 1378.6L649.4 1370.8L582.1 1319L571.7 1321.6L556.2 1317.8L545.9 1316.5Z" fill="url(#g52)" stroke="#1e1d1b" stroke-width="1.1" stroke-linejoin="round" />
<path d="M513.5 1313.9L532.9 1286.7L545.9 1316.5L522.6 1334.6Z" fill="#857f74" stroke="#1e1d1b" stroke-width="1.1" stroke-linejoin="round" />
<path d="M532.9 1286.7L538.1 1278.9L556.2 1317.8L545.9 1316.5Z" fill="#7d786d" stroke="#1e1d1b" stroke-width="1.1" stroke-linejoin="round" />
<path d="M513.5 1313.9L522.6 1334.6L522.6 1357.9L514.8 1329.4Z" fill="#77756d" stroke="#1e1d1b" stroke-width="1.1" stroke-linejoin="round" />
<path d="M300 1427.7L434.6 1407C434.6 1407 456.2 1402.2 465.6 1396.7C477.3 1389.9 488.7 1381.7 496.7 1370.8C505.6 1358.6 514.8 1329.4 514.8 1329.4L522.6 1357.9L527.7 1365.6C527.7 1365.6 517.6 1387.8 509.6 1396.7C500.9 1406.3 490.1 1414 478.6 1420C468.2 1425.4 444.9 1430.3 444.9 1430.3L300 1454.9Z" fill="#7b766a" stroke="#1e1d1b" stroke-width="1.1" stroke-linejoin="round" />
<path d="M434.6 1407L444.9 1430.3" fill="none" stroke="#1e1d1b" stroke-width="1.1" stroke-linecap="round" stroke-linejoin="round" />
<path d="M300 1454.9L444.9 1430.3C444.9 1430.3 468.2 1425.4 478.6 1420C490.1 1414 500.9 1406.3 509.6 1396.7C517.6 1387.8 527.7 1365.6 527.7 1365.6L522.6 1357.9L522.6 1334.6L545.9 1316.5L556.2 1317.8L554.9 1320.3L539.4 1329.4L539.4 1339.8C539.4 1339.8 539.3 1364.5 535.5 1376C531.8 1387.4 525.7 1398.3 517.4 1407C507.2 1417.7 494.3 1425.9 481.2 1432.9C470.7 1438.5 447.5 1444.6 447.5 1444.6L300 1470.4Z" fill="url(#g53)" stroke="#1e1d1b" stroke-width="1.1" stroke-linejoin="round" />
<path d="M300 1454.9L444.9 1430.3L447.5 1444.6L300 1470.4Z" fill="#8b8880" stroke="#1e1d1b" stroke-width="1.1" stroke-linejoin="round" />
<path d="M300 1470.4L447.5 1444.6C447.5 1444.6 470.7 1438.5 481.2 1432.9C494.3 1425.9 507.2 1417.7 517.4 1407C525.7 1398.3 531.8 1387.4 535.5 1376C539.3 1364.5 539.4 1339.8 539.4 1339.8L539.4 1329.4L554.9 1320.3L556.2 1509.3L346.6 1541.6L300 1520.9Z" fill="url(#g54)" stroke="#1e1d1b" stroke-width="1.1" stroke-linejoin="round" />
<path d="M309.1 1495C309.2 1492.7 311.6 1488.6 311.6 1488.6L320.7 1484.7C320.7 1484.7 411.1 1472.4 455.3 1461.4C470.3 1457.7 482.5 1446.7 496.7 1440.7C504.1 1437.6 520 1434.2 520 1434.2L530.3 1440.7L530.3 1482.1L522.6 1488.6L320.7 1524.8L310.4 1519.6C310.4 1519.6 308.8 1503.2 309.1 1495Z" fill="#4e4c48" stroke="#1e1d1b" stroke-width="1.1" stroke-linejoin="round" />
<path d="M320.7 1524.8L522.6 1488.6L530.3 1482.1L526.4 1479.5L520 1484.7L322 1518.8L314.2 1514.4L310.4 1519.6Z" fill="#8d8b85" stroke="#1e1d1b" stroke-width="0.8" stroke-linejoin="round" />
<path d="M346.6 1541.6L556.2 1509.3L556.2 1514.4L349.2 1546.8Z" fill="#6a6862" stroke="#1e1d1b" stroke-width="0.7" stroke-linejoin="round" />
<path d="M230.3 1443.2C230.3 1443.2 242.1 1437.2 248.4 1435.4C260.3 1432 284.7 1427.6 284.7 1427.6L300 1427.7L300 1454.9L302.8 1453.5C302.8 1453.5 283.6 1456.1 274.3 1458.7C268 1460.5 256.2 1466.5 256.2 1466.5Z" fill="#7b766a" stroke="#1e1d1b" stroke-width="1.1" stroke-linejoin="round" />
<path d="M256.2 1466.5C256.2 1466.5 268 1460.5 274.3 1458.7C283.6 1456.1 302.8 1453.5 302.8 1453.5L305.4 1470.3L271.7 1479.4L266.6 1489.8Z" fill="#6d6a62" stroke="#1e1d1b" stroke-width="1.1" stroke-linejoin="round" />
<path d="M302.8 1453.5L300 1454.9L300 1470.4L305.4 1470.3Z" fill="#8b8880" stroke="#1e1d1b" stroke-width="1.1" stroke-linejoin="round" />
<path d="M266.6 1489.8L271.7 1479.4L305.4 1470.3L300 1470.4L300 1520.9L346.8 1541.5L282.1 1551.9L269.2 1497.5Z" fill="#55534e" stroke="#1e1d1b" stroke-width="1.1" stroke-linejoin="round" />
<path d="M556.2 1319L571.7 1321.6L573 1526.1L556.2 1509.3Z" fill="#6e6e69" stroke="#1e1d1b" stroke-width="1.1" stroke-linejoin="round" />
<path d="M573 1321.6L582.1 1319L649.4 1370.8L648.1 1381.2C648.1 1381.2 652.7 1432.9 652 1458.8C651.4 1480.5 648.6 1502.2 644.2 1523.5C641.6 1536 631.3 1559.7 631.3 1559.7L573 1526.1Z" fill="url(#g55)" stroke="#1e1d1b" stroke-width="1.1" stroke-linejoin="round" />
<path d="M582.1 1319L583.4 1328.1L648.1 1381.2" fill="none" stroke="#1e1d1b" stroke-width="0.8" stroke-linecap="round" stroke-linejoin="round" />
<text x="0" y="0" transform="matrix(1.37 0.68 0 1 586 1404)" font-family='"Liberation Sans", sans-serif' font-size="54.7" font-weight="normal" fill="#6a6a66" stroke="#161615" stroke-width="1.1" stroke-linejoin="round">S</text>
<text x="0" y="0" font-family='"Liberation Sans", sans-serif' font-size="33" font-weight="normal" fill="#6a6a66" text-anchor="start" textLength="41.4" lengthAdjust="spacingAndGlyphs" stroke="#161615" stroke-width="1.1" transform="matrix(0.9 0.42 0 1 591.9 1467.1)">XL</text>
<text x="0" y="0" font-family='"Liberation Sans", sans-serif' font-size="33" font-weight="normal" fill="#6a6a66" text-anchor="start" textLength="60.8" lengthAdjust="spacingAndGlyphs" stroke="#161615" stroke-width="1.1" transform="matrix(0.9 0.42 0 1 580.0 1503.3)">AIR</text>
<path d="M661 1385L716.7 1396.7L711.5 1414.8L657.1 1404.5Z" fill="#8a857a" stroke="#1e1d1b" stroke-width="1.1" stroke-linejoin="round" />
<path d="M657.1 1404.5L711.5 1414.8L699.8 1429L662.3 1422.6Z" fill="#7b766a" stroke="#1e1d1b" stroke-width="1.1" stroke-linejoin="round" />
<path d="M649.4 1370.8L658.4 1378.6L661 1385L657.1 1404.5L662.3 1422.6C662.3 1422.6 661.8 1455.4 659.7 1471.7C657.5 1489.2 653.5 1506.4 649.4 1523.5C646.6 1534.9 639 1557.1 639 1557.1L631.3 1559.7C631.3 1559.7 641.6 1536 644.2 1523.5C648.6 1502.2 651.4 1480.5 652 1458.8C652.7 1432.9 648.1 1381.2 648.1 1381.2Z" fill="#62605a" stroke="#1e1d1b" stroke-width="1.1" stroke-linejoin="round" />
<path d="M662.3 1422.6L699.8 1429C699.8 1429 700 1449 698.6 1458.8C696.1 1476.2 692.9 1493.6 688.2 1510.6C683.4 1528.2 670.1 1562.3 670.1 1562.3L639 1557.1C639 1557.1 646.6 1534.9 649.4 1523.5C653.5 1506.4 657.5 1489.2 659.7 1471.7C661.8 1455.4 662.3 1422.6 662.3 1422.6Z" fill="url(#g56)" stroke="#1e1d1b" stroke-width="1.1" stroke-linejoin="round" />
<path d="M662.3 1439.4L699.8 1445.3" stroke="#f4f4f0" stroke-width="2"/>
<path d="M699.8 1429L716.7 1396.7C716.7 1396.7 716 1438.2 714.1 1458.8C711.7 1484.8 710.2 1511.1 703.7 1536.4C699.7 1552.1 683 1580.4 683 1580.4L670.1 1562.3C670.1 1562.3 683.4 1528.2 688.2 1510.6C692.9 1493.6 696.1 1476.2 698.6 1458.8C700 1449 699.8 1429 699.8 1429Z" fill="#74726b" stroke="#1e1d1b" stroke-width="1.1" stroke-linejoin="round" />
<path d="M674.4 1562.1L687.4 1567.3C687.4 1567.3 679.3 1595.1 674.4 1608.7C666.3 1631.3 660.4 1655.1 648.6 1676C642 1687.7 620.1 1704.5 620.1 1704.5L620.1 1686.3C620.1 1686.3 633.9 1673.7 638.2 1665.6C648.7 1645.8 656.7 1624.7 664.1 1603.5C668.8 1590.1 674.4 1562.1 674.4 1562.1Z" fill="#94948d" stroke="#1e1d1b" stroke-width="1.1" stroke-linejoin="round" />
<path d="M583.9 1668.2C583.9 1668.2 592.6 1652.7 596.8 1644.9C608.9 1622.5 633 1577.6 633 1577.6L643.4 1555.6L674.4 1562.1C674.4 1562.1 668.8 1590.1 664.1 1603.5C656.7 1624.7 648.7 1645.8 638.2 1665.6C633.9 1673.7 620.1 1686.3 620.1 1686.3L607.1 1692.8L594.2 1681.2Z" fill="#7b766a" stroke="#1e1d1b" stroke-width="1.1" stroke-linejoin="round" />
<path d="M687.4 1567.3L683 1580.4C683 1580.4 697.4 1521.5 703.7 1536.4C715.7 1565 703.7 1629.6 703.7 1629.6L669.3 1644.9C669.3 1644.9 646.9 1688.3 648.6 1676C652 1652.2 666.3 1631.3 674.4 1608.7C679.3 1595.1 687.4 1567.3 687.4 1567.3Z" fill="#6a6862" stroke="#1e1d1b" stroke-width="1.1" stroke-linejoin="round" />
<path d="M589 1700.6L592.1 1682.5L594.2 1681.2L607.1 1692.8L620.1 1686.3L620.1 1704.5L612.3 1714.8L602 1720Z" fill="#8a8983" stroke="#1e1d1b" stroke-width="1.1" stroke-linejoin="round" />
<path d="M583.9 1668.2C583.9 1668.2 592.6 1652.7 596.8 1644.9C608.9 1622.5 633 1577.6 633 1577.6L643.4 1555.6L635.6 1553.1L625.3 1575.1C625.3 1575.1 600.7 1619.7 589 1642.3C585.1 1649.8 578.7 1665.6 578.7 1665.6Z" fill="#6a6862" stroke="#1e1d1b" stroke-width="0.8" stroke-linejoin="round" />
<path d="M602 1720L612.3 1714.8L620.1 1704.5L648.6 1676L669.3 1644.9C669.3 1644.9 660.2 1679.9 653.7 1696.7C648.1 1711.1 639.2 1724 633 1738.1C627.1 1751.6 624.6 1766.6 617.5 1779.5C608.9 1795.3 599.3 1811 586.4 1823.5C571.3 1838.1 549.9 1845.2 534.7 1859.7C510.8 1882.5 470 1934.8 470 1934.8L457 1937.4Z" fill="#55534d" stroke="#1e1d1b" stroke-width="1.1" stroke-linejoin="round" />
<path d="M565.7 1805.4L617.5 1748.4C617.5 1748.4 621.5 1769.9 617.5 1779.5C610.6 1796.1 598.8 1810.5 586.4 1823.5C581.1 1829.1 565.7 1833.9 565.7 1833.9Z" fill="#4d4b46" stroke="#1e1d1b" stroke-width="1.1" stroke-linejoin="round" />
<path d="M602 1720L602 1761.4" fill="none" stroke="#1e1d1b" stroke-width="1.1" stroke-linecap="round" stroke-linejoin="round" />
<path d="M130.7 1566.1C130.7 1566.1 169.9 1519.9 190.2 1497.5C192.4 1495.1 194.8 1492.3 198 1491.8C201.1 1491.3 207 1494.9 207 1494.9L207 1507.9L191.5 1510.5L155.3 1557L155.3 1582.9L130.7 1577.7Z" fill="#4f4d48" stroke="#1e1d1b" stroke-width="1.1" stroke-linejoin="round" />
<path d="M207 1494.9L284.7 1550.6L269.2 1557L232.9 1577.7L207 1572.6L207 1507.9Z" fill="#55534e" stroke="#1e1d1b" stroke-width="1.1" stroke-linejoin="round" />
<path d="M155.3 1557L191.5 1510.5L207 1507.9L207 1572.6L157.9 1629.5L157.9 1590.7Z" fill="#45433f" stroke="#1e1d1b" stroke-width="1.1" stroke-linejoin="round" />
<path d="M207 1507.9L235.5 1526L235.5 1577.7L207 1572.6Z" fill="#5f5d58" stroke="#1e1d1b" stroke-width="1.1" stroke-linejoin="round" />
<path d="M130.7 1577.7L150.1 1559.6L155.3 1582.9L157.9 1629.5L121.6 1647.6L106.1 1658L80.2 1639.9L82.8 1614L99.6 1619.2Z" fill="#5a5852" stroke="#1e1d1b" stroke-width="1.1" stroke-linejoin="round" />
<path d="M99.6 1619.2L129.4 1582.9L130.7 1566.1L150.1 1559.6L155.3 1582.9L124.2 1621.7L113.9 1637.3Z" fill="#7c796f" stroke="#1e1d1b" stroke-width="1.1" stroke-linejoin="round" />
<path d="M82.8 1614L99.6 1619.2L113.9 1637.3L103.5 1651.5L88 1637.3Z" fill="#9a9a93" stroke="#1e1d1b" stroke-width="1.1" stroke-linejoin="round" />
<path d="M58.2 1650.2L64.7 1637.3L82.8 1614L80.2 1639.9L72.5 1664.4Z" fill="#4f4d48" stroke="#1e1d1b" stroke-width="1.1" stroke-linejoin="round" />
<path d="M207 1494.9L524.3 1699.3L519.2 1704.5L214.8 1507.9Z" fill="#5a5852" stroke="#1e1d1b" stroke-width="0.8" stroke-linejoin="round" />
<path d="M62.1 1778.6L117.8 1708.7L132 1708.7L323.5 1832.9L322.2 1845.9L266.6 1913.1L253.6 1910.6L64.7 1785Z" fill="#4a4844" stroke="#1e1d1b" stroke-width="1.1" stroke-linejoin="round" />
<path d="M75.6 1781.2L126.8 1721.1L317 1839.4L322.2 1845.9L266.6 1913.1L253.6 1910.6L64.7 1785Z" fill="#8f8a7f" stroke="#1e1d1b" stroke-width="1.1" stroke-linejoin="round" />
<path d="M82.8 1792.8L130.7 1728.1L203.2 1772.1L152.7 1834.2Z" fill="#ffffff" stroke="#1e1d1b" stroke-width="1.1" stroke-linejoin="round" />
<path d="M205.7 1867.9L254.9 1804.5L319.6 1845.9L269.2 1909.3L264 1909.3Z" fill="#ffffff" stroke="#1e1d1b" stroke-width="1.1" stroke-linejoin="round" />
<path d="M152.7 1834.2L203.2 1772.1L249.7 1800.6L199.3 1864Z" fill="#a39d91" stroke="#1e1d1b" stroke-width="1.1" stroke-linejoin="round" />
<path d="M199.3 1864L249.7 1800.6L254.9 1804.5L205.7 1867.9Z" fill="#4f4d48" stroke="#1e1d1b" stroke-width="1.1" stroke-linejoin="round" />
<path d="M207 1748.8L212.2 1742.3L226.4 1738.5L278.2 1772.1L279.5 1777.3L270.4 1786.3L253.6 1778.6Z" fill="#55534e" stroke="#1e1d1b" stroke-width="1.1" stroke-linejoin="round" />
<path d="M212.2 1742.3L226.4 1738.5L278.2 1772.1L264 1771.3L253.6 1778.6Z" fill="#8e8e88" stroke="#1e1d1b" stroke-width="1.1" stroke-linejoin="round" />
<path d="M418 1845.9L424.4 1827.7L460.7 1782.5L476.2 1778.6L440 1832.9L427 1853.6Z" fill="#8e8e88" stroke="#1e1d1b" stroke-width="1.1" stroke-linejoin="round" />
<path d="M418 1845.9L424.4 1827.7L437.4 1835.5L427 1853.6Z" fill="#6a6862" stroke="#1e1d1b" stroke-width="1.1" stroke-linejoin="round" />
<path d="M25.9 1637.3C25.7 1634.2 27.2 1628.2 27.2 1628.2L38.8 1611.4C38.8 1611.4 130.8 1494.8 178.6 1438C181.9 1434.1 186.6 1431.1 191.5 1429.7C196.5 1428.3 207 1430.2 207 1430.2L254.9 1463.9L258.8 1474.2L270.4 1498.8L508.8 1644.9C508.8 1644.9 517.4 1643.6 521.7 1643.6C527.8 1643.6 539.9 1644.9 539.9 1644.9C539.9 1644.9 570.1 1660.9 583.9 1670.8C587.8 1673.6 591.3 1677.8 592.1 1682.5C593.1 1688.5 589 1700.6 589 1700.6C589 1700.6 492.9 1843 442.8 1912.8C440.1 1916.6 431.2 1920.5 431.2 1920.5L289.9 1931.3L279.5 1928.7L49.2 1790.2C49.2 1790.2 37.5 1776.6 36.2 1768.2C29.6 1724.9 28.7 1681 25.9 1637.3ZM58.2 1650.2C57.8 1647.6 58.8 1644.8 60 1642.4C61 1640.3 64.7 1637.3 64.7 1637.3L82.8 1614L99.6 1619.2L130.7 1577.7L129.4 1566.1C129.4 1566.1 169.5 1519.9 190.2 1497.5C192.4 1495.1 194.8 1492.3 198 1491.8C201.1 1491.3 207 1494.9 207 1494.9C207 1494.9 419.1 1630.2 524.3 1699.3C527 1701.1 529.5 1703.9 530 1707C530.5 1709.8 526.9 1714.8 526.9 1714.8L477.7 1779.5L459.6 1782.1L420.8 1833.9L436.3 1841.6C436.3 1841.6 425.5 1859.1 418.2 1866.2C414.5 1869.8 409.2 1872.4 404 1872.7C399.7 1872.9 392.3 1867.5 392.3 1867.5L72.5 1664.4C72.5 1664.4 65 1660.9 62.1 1658C60 1656 58.6 1653.1 58.2 1650.2ZM62.1 1778.6C61.9 1776.8 63.4 1773.4 63.4 1773.4C63.4 1773.4 99 1729.7 117.8 1708.7C119.4 1706.9 121.8 1705.6 124.2 1705.6C127 1705.6 132 1708.7 132 1708.7C132 1708.7 260.3 1790.5 323.5 1832.9C325.5 1834.2 326.8 1837 326.6 1839.4C326.3 1842 322.2 1845.9 322.2 1845.9C322.2 1845.9 286 1891.5 266.6 1913.1C265.1 1914.8 262.3 1915.4 260.1 1915C257.5 1914.5 253.6 1910.6 253.6 1910.6C253.6 1910.6 127 1827.9 64.7 1785C62.8 1783.7 62.4 1780.9 62.1 1778.6Z" fill="url(#g57)" fill-rule="evenodd" stroke="#1e1d1b" stroke-width="1.1" stroke-linejoin="round"/>
<path d="M214.8 1501.4L521.7 1707" fill="none" stroke="#1e1d1b" stroke-width="0.8" stroke-linecap="round" stroke-linejoin="round" />
<path d="M36.2 1768.2L49.2 1790.2L58.2 1804.5L42.7 1781.2Z" fill="#6a6862" stroke="#1e1d1b" stroke-width="1.1" stroke-linejoin="round" />
<path d="M49.2 1790.2L279.5 1928.7L295 1944.7L58.2 1804.5Z" fill="#55534d" stroke="#1e1d1b" stroke-width="1.1" stroke-linejoin="round" />
<path d="M279.5 1928.7L289.9 1931.3L301.5 1944.2L295 1944.7Z" fill="#64625c" stroke="#1e1d1b" stroke-width="1.1" stroke-linejoin="round" />
<path d="M289.9 1931.3L431.2 1920.5L444.1 1945.1L301.5 1944.2Z" fill="#4f4d48" stroke="#1e1d1b" stroke-width="1.1" stroke-linejoin="round" />
<path d="M431.2 1920.5L442.8 1912.8L457 1937.4L444.1 1945.1Z" fill="#5d5b55" stroke="#1e1d1b" stroke-width="1.1" stroke-linejoin="round" />
<path d="M442.8 1912.8L589 1700.6L602 1720L457 1937.4Z" fill="#55534d" stroke="#1e1d1b" stroke-width="1.1" stroke-linejoin="round" />
<ellipse cx="194.6" cy="1451.4" rx="17.5" ry="17" fill="#2e2e2e" stroke="#0c0c0c" stroke-width="1.2"/>
<ellipse cx="194.6" cy="1450.9" rx="15.8" ry="15.2" fill="#353535"/>
<path d="M190.6 1450.9L193.1 1447.9L197.6 1448.4L199.1 1451.9L196.1 1454.9L192.1 1454.4Z" fill="#4a4a4a" stroke="#0a0a0a" stroke-width="0.8" stroke-linejoin="round" />
<ellipse cx="92.4" cy="1581.1" rx="17.5" ry="17" fill="#2e2e2e" stroke="#0c0c0c" stroke-width="1.2"/>
<ellipse cx="92.4" cy="1580.6" rx="15.8" ry="15.2" fill="#353535"/>
<path d="M88.4 1580.6L90.9 1577.6L95.4 1578.1L96.9 1581.6L93.9 1584.6L89.9 1584.1Z" fill="#4a4a4a" stroke="#0a0a0a" stroke-width="0.8" stroke-linejoin="round" />
<ellipse cx="570.4" cy="1690.2" rx="17.5" ry="17" fill="#2e2e2e" stroke="#0c0c0c" stroke-width="1.2"/>
<ellipse cx="570.4" cy="1689.7" rx="15.8" ry="15.2" fill="#353535"/>
<path d="M566.4 1689.7L568.9 1686.7L573.4 1687.2L574.9 1690.7L571.9 1693.7L567.9 1693.2Z" fill="#4a4a4a" stroke="#0a0a0a" stroke-width="0.8" stroke-linejoin="round" />
<ellipse cx="468.7" cy="1820.9" rx="17.5" ry="17" fill="#2e2e2e" stroke="#0c0c0c" stroke-width="1.2"/>
<ellipse cx="468.7" cy="1820.4" rx="15.8" ry="15.2" fill="#353535"/>
<path d="M464.7 1820.4L467.2 1817.4L471.7 1817.9L473.2 1821.4L470.2 1824.4L466.2 1823.9Z" fill="#4a4a4a" stroke="#0a0a0a" stroke-width="0.8" stroke-linejoin="round" />
<path d="M579 110.7L583.4 106.5L587.9 110.7L592.3 106.5L596.7 110.7L601.1 106.5L605.6 110.7L610 106.5L614.4 110.7L618.9 106.5L623.3 110.7L627.7 106.5L632.1 110.7L636.6 106.5L641 110.7L645.4 106.5L649.9 110.7L654.3 106.5L658.7 110.7L663.1 106.5L667.6 110.7L672 106.5L676.4 110.7L680.8 106.5L685.3 110.7L689.7 106.5L694.1 110.7L698.6 106.5L703 110.7L707.4 106.5L711.8 110.7L716.3 106.5L720.7 110.7L720.7 155.3L716.3 159.5L711.8 155.3L707.4 159.5L703 155.3L698.6 159.5L694.1 155.3L689.7 159.5L685.3 155.3L680.8 159.5L676.4 155.3L672 159.5L667.6 155.3L663.1 159.5L658.7 155.3L654.3 159.5L649.9 155.3L645.4 159.5L641 155.3L636.6 159.5L632.1 155.3L627.7 159.5L623.3 155.3L618.9 159.5L614.4 155.3L610 159.5L605.6 155.3L601.1 159.5L596.7 155.3L592.3 159.5L587.9 155.3L583.4 159.5L579 155.3Z" fill="url(#g58)" />
<path d="M583.4 107.5L585.6 158.5" stroke="#0a0a0a" stroke-width="1.6" opacity="0.55"/>
<path d="M592.3 107.5L594.5 158.5" stroke="#0a0a0a" stroke-width="1.6" opacity="0.55"/>
<path d="M601.1 107.5L603.3 158.5" stroke="#0a0a0a" stroke-width="1.6" opacity="0.55"/>
<path d="M610.0 107.5L612.2 158.5" stroke="#0a0a0a" stroke-width="1.6" opacity="0.55"/>
<path d="M618.9 107.5L621.1 158.5" stroke="#0a0a0a" stroke-width="1.6" opacity="0.55"/>
<path d="M627.7 107.5L629.9 158.5" stroke="#0a0a0a" stroke-width="1.6" opacity="0.55"/>
<path d="M636.6 107.5L638.8 158.5" stroke="#0a0a0a" stroke-width="1.6" opacity="0.55"/>
<path d="M645.4 107.5L647.6 158.5" stroke="#0a0a0a" stroke-width="1.6" opacity="0.55"/>
<path d="M654.3 107.5L656.5 158.5" stroke="#0a0a0a" stroke-width="1.6" opacity="0.55"/>
<path d="M663.1 107.5L665.3 158.5" stroke="#0a0a0a" stroke-width="1.6" opacity="0.55"/>
<path d="M672.0 107.5L674.2 158.5" stroke="#0a0a0a" stroke-width="1.6" opacity="0.55"/>
<path d="M680.8 107.5L683.0 158.5" stroke="#0a0a0a" stroke-width="1.6" opacity="0.55"/>
<path d="M689.7 107.5L691.9 158.5" stroke="#0a0a0a" stroke-width="1.6" opacity="0.55"/>
<path d="M698.6 107.5L700.8 158.5" stroke="#0a0a0a" stroke-width="1.6" opacity="0.55"/>
<path d="M707.4 107.5L709.6 158.5" stroke="#0a0a0a" stroke-width="1.6" opacity="0.55"/>
<path d="M716.3 107.5L718.5 158.5" stroke="#0a0a0a" stroke-width="1.6" opacity="0.55"/>
<path d="M719.7 80.8H726.7C739.7 84.8 750.7 104.3 750.7 121.5V144.5C750.7 161.7 739.7 181.2 726.7 185.2H719.7Z" fill="url(#g59)"/>
<path d="M726.2 81.8V184.2" stroke="#000" stroke-width="1" opacity="0.7"/>
<path d="M495 242.2L499.3 238L503.7 242.2L508 238L512.4 242.2L516.7 238L521 242.2L525.4 238L529.7 242.2L534.1 238L538.4 242.2L542.7 238L547.1 242.2L551.4 238L555.8 242.2L560.1 238L564.4 242.2L568.8 238L573.1 242.2L577.5 238L581.8 242.2L586.1 238L590.5 242.2L594.8 238L599.2 242.2L603.5 238L607.9 242.2L612.2 238L616.5 242.2L620.9 238L625.2 242.2L629.6 238L633.9 242.2L638.2 238L642.6 242.2L646.9 238L651.3 242.2L655.6 238L659.9 242.2L664.3 238L668.6 242.2L673 238L677.3 242.2L681.6 238L686 242.2L690.3 238L694.7 242.2L699 238L703.3 242.2L707.7 238L712 242.2L716.4 238L720.7 242.2L720.7 287.4L716.4 291.6L712 287.4L707.7 291.6L703.3 287.4L699 291.6L694.7 287.4L690.3 291.6L686 287.4L681.6 291.6L677.3 287.4L673 291.6L668.6 287.4L664.3 291.6L659.9 287.4L655.6 291.6L651.3 287.4L646.9 291.6L642.6 287.4L638.2 291.6L633.9 287.4L629.6 291.6L625.2 287.4L620.9 291.6L616.5 287.4L612.2 291.6L607.9 287.4L603.5 291.6L599.2 287.4L594.8 291.6L590.5 287.4L586.1 291.6L581.8 287.4L577.5 291.6L573.1 287.4L568.8 291.6L564.4 287.4L560.1 291.6L555.8 287.4L551.4 291.6L547.1 287.4L542.7 291.6L538.4 287.4L534.1 291.6L529.7 287.4L525.4 291.6L521 287.4L516.7 291.6L512.4 287.4L508 291.6L503.7 287.4L499.3 291.6L495 287.4Z" fill="url(#g60)" />
<path d="M499.3 239.0L501.5 290.6" stroke="#0a0a0a" stroke-width="1.6" opacity="0.55"/>
<path d="M508.0 239.0L510.2 290.6" stroke="#0a0a0a" stroke-width="1.6" opacity="0.55"/>
<path d="M516.7 239.0L518.9 290.6" stroke="#0a0a0a" stroke-width="1.6" opacity="0.55"/>
<path d="M525.4 239.0L527.6 290.6" stroke="#0a0a0a" stroke-width="1.6" opacity="0.55"/>
<path d="M534.1 239.0L536.3 290.6" stroke="#0a0a0a" stroke-width="1.6" opacity="0.55"/>
<path d="M542.7 239.0L544.9 290.6" stroke="#0a0a0a" stroke-width="1.6" opacity="0.55"/>
<path d="M551.4 239.0L553.6 290.6" stroke="#0a0a0a" stroke-width="1.6" opacity="0.55"/>
<path d="M560.1 239.0L562.3 290.6" stroke="#0a0a0a" stroke-width="1.6" opacity="0.55"/>
<path d="M568.8 239.0L571.0 290.6" stroke="#0a0a0a" stroke-width="1.6" opacity="0.55"/>
<path d="M577.5 239.0L579.7 290.6" stroke="#0a0a0a" stroke-width="1.6" opacity="0.55"/>
<path d="M586.1 239.0L588.3 290.6" stroke="#0a0a0a" stroke-width="1.6" opacity="0.55"/>
<path d="M594.8 239.0L597.0 290.6" stroke="#0a0a0a" stroke-width="1.6" opacity="0.55"/>
<path d="M603.5 239.0L605.7 290.6" stroke="#0a0a0a" stroke-width="1.6" opacity="0.55"/>
<path d="M612.2 239.0L614.4 290.6" stroke="#0a0a0a" stroke-width="1.6" opacity="0.55"/>
<path d="M620.9 239.0L623.1 290.6" stroke="#0a0a0a" stroke-width="1.6" opacity="0.55"/>
<path d="M629.6 239.0L631.8 290.6" stroke="#0a0a0a" stroke-width="1.6" opacity="0.55"/>
<path d="M638.2 239.0L640.4 290.6" stroke="#0a0a0a" stroke-width="1.6" opacity="0.55"/>
<path d="M646.9 239.0L649.1 290.6" stroke="#0a0a0a" stroke-width="1.6" opacity="0.55"/>
<path d="M655.6 239.0L657.8 290.6" stroke="#0a0a0a" stroke-width="1.6" opacity="0.55"/>
<path d="M664.3 239.0L666.5 290.6" stroke="#0a0a0a" stroke-width="1.6" opacity="0.55"/>
<path d="M673.0 239.0L675.2 290.6" stroke="#0a0a0a" stroke-width="1.6" opacity="0.55"/>
<path d="M681.6 239.0L683.8 290.6" stroke="#0a0a0a" stroke-width="1.6" opacity="0.55"/>
<path d="M690.3 239.0L692.5 290.6" stroke="#0a0a0a" stroke-width="1.6" opacity="0.55"/>
<path d="M699.0 239.0L701.2 290.6" stroke="#0a0a0a" stroke-width="1.6" opacity="0.55"/>
<path d="M707.7 239.0L709.9 290.6" stroke="#0a0a0a" stroke-width="1.6" opacity="0.55"/>
<path d="M716.4 239.0L718.6 290.6" stroke="#0a0a0a" stroke-width="1.6" opacity="0.55"/>
<path d="M719.7 212.8H726.7C739.7 216.8 750.7 236.2 750.7 253.4V276.2C750.7 293.4 739.7 312.8 726.7 316.8H719.7Z" fill="url(#g61)"/>
<path d="M726.2 213.8V315.8" stroke="#000" stroke-width="1" opacity="0.7"/>
<path d="M1460.2 36.3L1464.5 36.3L1482 55L1494 57L1494 76L1482 78L1464.5 96.9L1460.2 96.9Z" fill="url(#g63)" stroke="#555" stroke-width="0.6" stroke-linejoin="round" />
<path d="M1461.8 37V96.5" stroke="#d8d8d6" stroke-width="1.6"/>
<path d="M1494 57L1676 57L1724.8 66.2L1676 77L1494 77Z" fill="url(#g62)" />
<path d="M1494 56.1L1499.5 50.6L1504.9 56.1L1510.4 50.6L1515.9 56.1L1521.4 50.6L1526.8 56.1L1532.3 50.6L1537.8 56.1L1543.2 50.6L1548.7 56.1L1554.2 50.6L1559.6 56.1L1565.1 50.6L1570.6 56.1L1576.1 50.6L1581.5 56.1L1587 50.6L1592.5 56.1L1597.9 50.6L1603.4 56.1L1608.9 50.6L1614.4 56.1L1619.8 50.6L1625.3 56.1L1630.8 50.6L1636.2 56.1L1641.7 50.6L1647.2 56.1L1652.6 50.6L1658.1 56.1L1663.6 50.6L1669.1 56.1L1674.5 50.6L1680 56.1L1680 76.5L1674.5 82L1669.1 76.5L1663.6 82L1658.1 76.5L1652.6 82L1647.2 76.5L1641.7 82L1636.2 76.5L1630.8 82L1625.3 76.5L1619.8 82L1614.4 76.5L1608.9 82L1603.4 76.5L1597.9 82L1592.5 76.5L1587 82L1581.5 76.5L1576.1 82L1570.6 76.5L1565.1 82L1559.6 76.5L1554.2 82L1548.7 76.5L1543.2 82L1537.8 76.5L1532.3 82L1526.8 76.5L1521.4 82L1515.9 76.5L1510.4 82L1504.9 76.5L1499.5 82L1494 76.5Z" fill="url(#g62)" />
<path d="M1498.0 52.0L1503.0 81.0" stroke="#4a4a48" stroke-width="1.8" opacity="0.8"/>
<path d="M1508.9 52.0L1513.9 81.0" stroke="#4a4a48" stroke-width="1.8" opacity="0.8"/>
<path d="M1519.9 52.0L1524.9 81.0" stroke="#4a4a48" stroke-width="1.8" opacity="0.8"/>
<path d="M1530.8 52.0L1535.8 81.0" stroke="#4a4a48" stroke-width="1.8" opacity="0.8"/>
<path d="M1541.7 52.0L1546.7 81.0" stroke="#4a4a48" stroke-width="1.8" opacity="0.8"/>
<path d="M1552.7 52.0L1557.7 81.0" stroke="#4a4a48" stroke-width="1.8" opacity="0.8"/>
<path d="M1563.6 52.0L1568.6 81.0" stroke="#4a4a48" stroke-width="1.8" opacity="0.8"/>
<path d="M1574.6 52.0L1579.6 81.0" stroke="#4a4a48" stroke-width="1.8" opacity="0.8"/>
<path d="M1585.5 52.0L1590.5 81.0" stroke="#4a4a48" stroke-width="1.8" opacity="0.8"/>
<path d="M1596.4 52.0L1601.4 81.0" stroke="#4a4a48" stroke-width="1.8" opacity="0.8"/>
<path d="M1607.4 52.0L1612.4 81.0" stroke="#4a4a48" stroke-width="1.8" opacity="0.8"/>
<path d="M1618.3 52.0L1623.3 81.0" stroke="#4a4a48" stroke-width="1.8" opacity="0.8"/>
<path d="M1629.3 52.0L1634.3 81.0" stroke="#4a4a48" stroke-width="1.8" opacity="0.8"/>
<path d="M1640.2 52.0L1645.2 81.0" stroke="#4a4a48" stroke-width="1.8" opacity="0.8"/>
<path d="M1651.1 52.0L1656.1 81.0" stroke="#4a4a48" stroke-width="1.8" opacity="0.8"/>
<path d="M1662.1 52.0L1667.1 81.0" stroke="#4a4a48" stroke-width="1.8" opacity="0.8"/>
<path d="M1673.0 52.0L1678.0 81.0" stroke="#4a4a48" stroke-width="1.8" opacity="0.8"/>
<path d="M1273.1 1024.7L1277.9 1021.5L1282.7 1024.7L1287.5 1021.5L1292.3 1024.7L1297.1 1021.5L1301.9 1024.7L1306.7 1021.5L1311.5 1024.7L1316.3 1021.5L1321.1 1024.7L1325.9 1021.5L1330.7 1024.7L1335.5 1021.5L1340.4 1024.7L1345.2 1021.5L1350 1024.7L1354.8 1021.5L1359.6 1024.7L1364.4 1021.5L1369.2 1024.7L1374 1021.5L1378.8 1024.7L1383.6 1021.5L1388.4 1024.7L1393.2 1021.5L1398 1024.7L1398 1071.4L1393.2 1074.6L1388.4 1071.4L1383.6 1074.6L1378.8 1071.4L1374 1074.6L1369.2 1071.4L1364.4 1074.6L1359.6 1071.4L1354.8 1074.6L1350 1071.4L1345.2 1074.6L1340.4 1071.4L1335.5 1074.6L1330.7 1071.4L1325.9 1074.6L1321.1 1071.4L1316.3 1074.6L1311.5 1071.4L1306.7 1074.6L1301.9 1071.4L1297.1 1074.6L1292.3 1071.4L1287.5 1074.6L1282.7 1071.4L1277.9 1074.6L1273.1 1071.4Z" fill="url(#g64)" />
<path d="M1277.9 1023.0L1280.1 1073.5" stroke="#0a0a0a" stroke-width="1.6" opacity="0.55"/>
<path d="M1287.5 1023.0L1289.7 1073.5" stroke="#0a0a0a" stroke-width="1.6" opacity="0.55"/>
<path d="M1297.1 1023.0L1299.3 1073.5" stroke="#0a0a0a" stroke-width="1.6" opacity="0.55"/>
<path d="M1306.7 1023.0L1308.9 1073.5" stroke="#0a0a0a" stroke-width="1.6" opacity="0.55"/>
<path d="M1316.3 1023.0L1318.5 1073.5" stroke="#0a0a0a" stroke-width="1.6" opacity="0.55"/>
<path d="M1325.9 1023.0L1328.1 1073.5" stroke="#0a0a0a" stroke-width="1.6" opacity="0.55"/>
<path d="M1335.5 1023.0L1337.8 1073.5" stroke="#0a0a0a" stroke-width="1.6" opacity="0.55"/>
<path d="M1345.2 1023.0L1347.4 1073.5" stroke="#0a0a0a" stroke-width="1.6" opacity="0.55"/>
<path d="M1354.8 1023.0L1357.0 1073.5" stroke="#0a0a0a" stroke-width="1.6" opacity="0.55"/>
<path d="M1364.4 1023.0L1366.6 1073.5" stroke="#0a0a0a" stroke-width="1.6" opacity="0.55"/>
<path d="M1374.0 1023.0L1376.2 1073.5" stroke="#0a0a0a" stroke-width="1.6" opacity="0.55"/>
<path d="M1383.6 1023.0L1385.8 1073.5" stroke="#0a0a0a" stroke-width="1.6" opacity="0.55"/>
<path d="M1393.2 1023.0L1395.4 1073.5" stroke="#0a0a0a" stroke-width="1.6" opacity="0.55"/>
<path d="M1397 1026.5L1434.5 988.9L1436.8 988.9L1436.8 1107.2L1434.5 1107.2L1397 1070.5Z" fill="url(#g65)" />
<text x="769.3" y="150.3" font-family='"Liberation Sans", sans-serif' font-size="53" font-weight="bold" fill="#ff0000" text-anchor="start" textLength="174" lengthAdjust="spacingAndGlyphs" >M4x10</text>
<text x="769.3" y="282.8" font-family='"Liberation Sans", sans-serif' font-size="53" font-weight="bold" fill="#3dff1a" text-anchor="start" textLength="174" lengthAdjust="spacingAndGlyphs" >M4x16</text>
<text x="1491.6" y="139" font-family='"Liberation Sans", sans-serif' font-size="52.5" font-weight="bold" fill="#e600ff" text-anchor="start" textLength="169.5" lengthAdjust="spacingAndGlyphs" >4,5x40</text>
<text x="1460" y="1067.8" font-family='"Liberation Sans", sans-serif' font-size="53" font-weight="bold" fill="#0a6eff" text-anchor="start" textLength="162.8" lengthAdjust="spacingAndGlyphs" >M4x14</text>
</svg>
</body></html>
